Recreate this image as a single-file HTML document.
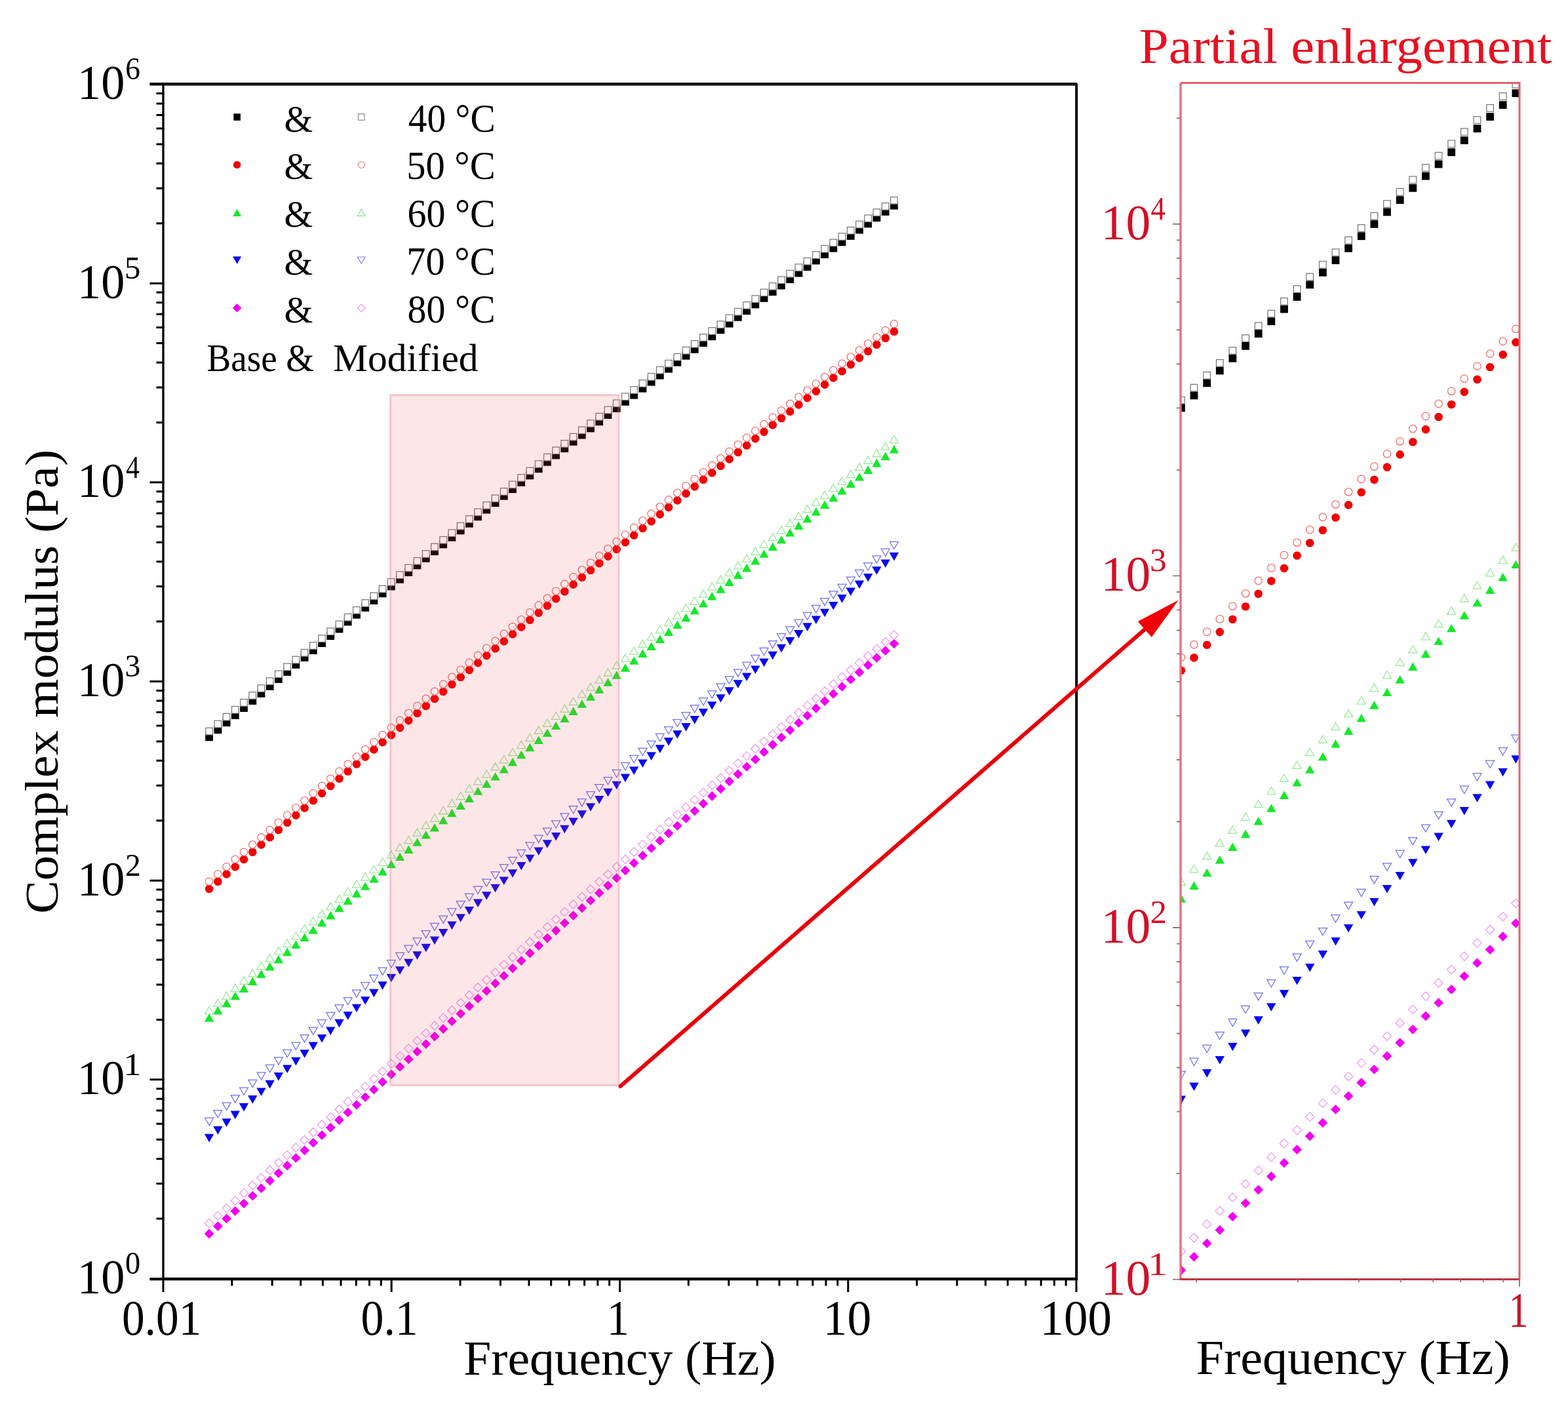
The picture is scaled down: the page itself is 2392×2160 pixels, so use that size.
<!DOCTYPE html>
<html><head><meta charset="utf-8"><title>Complex modulus vs frequency</title>
<style>html,body{margin:0;padding:0;background:#fff;}svg{display:block;}</style></head>
<body><svg width="2392" height="2160" viewBox="0 0 2392 2160"><rect x="0" y="0" width="2392" height="2160" fill="#fff"/><g><rect x="313.2" y="1118.5" width="11.8" height="11.8" fill="#000000"/><rect x="326.5" y="1107.4" width="11.8" height="11.8" fill="#000000"/><rect x="339.7" y="1096.3" width="11.8" height="11.8" fill="#000000"/><rect x="352.9" y="1085.2" width="11.8" height="11.8" fill="#000000"/><rect x="366.1" y="1074.1" width="11.8" height="11.8" fill="#000000"/><rect x="379.4" y="1063.1" width="11.8" height="11.8" fill="#000000"/><rect x="392.6" y="1052.0" width="11.8" height="11.8" fill="#000000"/><rect x="405.8" y="1041.0" width="11.8" height="11.8" fill="#000000"/><rect x="419.0" y="1030.0" width="11.8" height="11.8" fill="#000000"/><rect x="432.3" y="1019.0" width="11.8" height="11.8" fill="#000000"/><rect x="445.5" y="1008.0" width="11.8" height="11.8" fill="#000000"/><rect x="458.7" y="997.1" width="11.8" height="11.8" fill="#000000"/><rect x="471.9" y="986.2" width="11.8" height="11.8" fill="#000000"/><rect x="485.2" y="975.2" width="11.8" height="11.8" fill="#000000"/><rect x="498.4" y="964.3" width="11.8" height="11.8" fill="#000000"/><rect x="511.6" y="953.5" width="11.8" height="11.8" fill="#000000"/><rect x="524.8" y="942.6" width="11.8" height="11.8" fill="#000000"/><rect x="538.1" y="931.8" width="11.8" height="11.8" fill="#000000"/><rect x="551.3" y="921.0" width="11.8" height="11.8" fill="#000000"/><rect x="564.5" y="910.2" width="11.8" height="11.8" fill="#000000"/><rect x="577.7" y="899.4" width="11.8" height="11.8" fill="#000000"/><rect x="591.0" y="888.6" width="11.8" height="11.8" fill="#000000"/><rect x="604.2" y="877.9" width="11.8" height="11.8" fill="#000000"/><rect x="617.4" y="867.2" width="11.8" height="11.8" fill="#000000"/><rect x="630.6" y="856.5" width="11.8" height="11.8" fill="#000000"/><rect x="643.9" y="845.8" width="11.8" height="11.8" fill="#000000"/><rect x="657.1" y="835.2" width="11.8" height="11.8" fill="#000000"/><rect x="670.3" y="824.5" width="11.8" height="11.8" fill="#000000"/><rect x="683.5" y="813.9" width="11.8" height="11.8" fill="#000000"/><rect x="696.8" y="803.4" width="11.8" height="11.8" fill="#000000"/><rect x="710.0" y="792.8" width="11.8" height="11.8" fill="#000000"/><rect x="723.2" y="782.3" width="11.8" height="11.8" fill="#000000"/><rect x="736.4" y="771.7" width="11.8" height="11.8" fill="#000000"/><rect x="749.7" y="761.3" width="11.8" height="11.8" fill="#000000"/><rect x="762.9" y="750.8" width="11.8" height="11.8" fill="#000000"/><rect x="776.1" y="740.3" width="11.8" height="11.8" fill="#000000"/><rect x="789.3" y="729.9" width="11.8" height="11.8" fill="#000000"/><rect x="802.5" y="719.5" width="11.8" height="11.8" fill="#000000"/><rect x="815.8" y="709.2" width="11.8" height="11.8" fill="#000000"/><rect x="829.0" y="698.8" width="11.8" height="11.8" fill="#000000"/><rect x="842.2" y="688.5" width="11.8" height="11.8" fill="#000000"/><rect x="855.4" y="678.2" width="11.8" height="11.8" fill="#000000"/><rect x="868.7" y="667.9" width="11.8" height="11.8" fill="#000000"/><rect x="881.9" y="657.7" width="11.8" height="11.8" fill="#000000"/><rect x="895.1" y="647.5" width="11.8" height="11.8" fill="#000000"/><rect x="908.3" y="637.3" width="11.8" height="11.8" fill="#000000"/><rect x="921.6" y="627.1" width="11.8" height="11.8" fill="#000000"/><rect x="934.8" y="617.0" width="11.8" height="11.8" fill="#000000"/><rect x="948.0" y="606.9" width="11.8" height="11.8" fill="#000000"/><rect x="961.2" y="596.8" width="11.8" height="11.8" fill="#000000"/><rect x="974.5" y="586.7" width="11.8" height="11.8" fill="#000000"/><rect x="987.7" y="576.7" width="11.8" height="11.8" fill="#000000"/><rect x="1000.9" y="566.7" width="11.8" height="11.8" fill="#000000"/><rect x="1014.1" y="556.7" width="11.8" height="11.8" fill="#000000"/><rect x="1027.4" y="546.8" width="11.8" height="11.8" fill="#000000"/><rect x="1040.6" y="536.8" width="11.8" height="11.8" fill="#000000"/><rect x="1053.8" y="526.9" width="11.8" height="11.8" fill="#000000"/><rect x="1067.0" y="517.1" width="11.8" height="11.8" fill="#000000"/><rect x="1080.3" y="507.3" width="11.8" height="11.8" fill="#000000"/><rect x="1093.5" y="497.4" width="11.8" height="11.8" fill="#000000"/><rect x="1106.7" y="487.7" width="11.8" height="11.8" fill="#000000"/><rect x="1119.9" y="477.9" width="11.8" height="11.8" fill="#000000"/><rect x="1133.2" y="468.2" width="11.8" height="11.8" fill="#000000"/><rect x="1146.4" y="458.5" width="11.8" height="11.8" fill="#000000"/><rect x="1159.6" y="448.9" width="11.8" height="11.8" fill="#000000"/><rect x="1172.8" y="439.2" width="11.8" height="11.8" fill="#000000"/><rect x="1186.1" y="429.6" width="11.8" height="11.8" fill="#000000"/><rect x="1199.3" y="420.1" width="11.8" height="11.8" fill="#000000"/><rect x="1212.5" y="410.6" width="11.8" height="11.8" fill="#000000"/><rect x="1225.7" y="401.1" width="11.8" height="11.8" fill="#000000"/><rect x="1239.0" y="391.6" width="11.8" height="11.8" fill="#000000"/><rect x="1252.2" y="382.1" width="11.8" height="11.8" fill="#000000"/><rect x="1265.4" y="372.7" width="11.8" height="11.8" fill="#000000"/><rect x="1278.6" y="363.4" width="11.8" height="11.8" fill="#000000"/><rect x="1291.9" y="354.0" width="11.8" height="11.8" fill="#000000"/><rect x="1305.1" y="344.7" width="11.8" height="11.8" fill="#000000"/><rect x="1318.3" y="335.4" width="11.8" height="11.8" fill="#000000"/><rect x="1331.5" y="326.2" width="11.8" height="11.8" fill="#000000"/><rect x="1344.8" y="317.0" width="11.8" height="11.8" fill="#000000"/><rect x="1358.0" y="307.8" width="11.8" height="11.8" fill="#000000"/><rect x="313.8" y="1110.3" width="10.6" height="10.6" fill="#fff" stroke="#787878" stroke-width="1.25"/><rect x="327.1" y="1099.3" width="10.6" height="10.6" fill="#fff" stroke="#787878" stroke-width="1.25"/><rect x="340.3" y="1088.4" width="10.6" height="10.6" fill="#fff" stroke="#787878" stroke-width="1.25"/><rect x="353.5" y="1077.5" width="10.6" height="10.6" fill="#fff" stroke="#787878" stroke-width="1.25"/><rect x="366.7" y="1066.6" width="10.6" height="10.6" fill="#fff" stroke="#787878" stroke-width="1.25"/><rect x="379.9" y="1055.7" width="10.6" height="10.6" fill="#fff" stroke="#787878" stroke-width="1.25"/><rect x="393.2" y="1044.8" width="10.6" height="10.6" fill="#fff" stroke="#787878" stroke-width="1.25"/><rect x="406.4" y="1033.9" width="10.6" height="10.6" fill="#fff" stroke="#787878" stroke-width="1.25"/><rect x="419.6" y="1023.1" width="10.6" height="10.6" fill="#fff" stroke="#787878" stroke-width="1.25"/><rect x="432.8" y="1012.2" width="10.6" height="10.6" fill="#fff" stroke="#787878" stroke-width="1.25"/><rect x="446.1" y="1001.3" width="10.6" height="10.6" fill="#fff" stroke="#787878" stroke-width="1.25"/><rect x="459.3" y="990.5" width="10.6" height="10.6" fill="#fff" stroke="#787878" stroke-width="1.25"/><rect x="472.5" y="979.7" width="10.6" height="10.6" fill="#fff" stroke="#787878" stroke-width="1.25"/><rect x="485.7" y="968.8" width="10.6" height="10.6" fill="#fff" stroke="#787878" stroke-width="1.25"/><rect x="499.0" y="958.0" width="10.6" height="10.6" fill="#fff" stroke="#787878" stroke-width="1.25"/><rect x="512.2" y="947.2" width="10.6" height="10.6" fill="#fff" stroke="#787878" stroke-width="1.25"/><rect x="525.4" y="936.4" width="10.6" height="10.6" fill="#fff" stroke="#787878" stroke-width="1.25"/><rect x="538.6" y="925.6" width="10.6" height="10.6" fill="#fff" stroke="#787878" stroke-width="1.25"/><rect x="551.9" y="914.8" width="10.6" height="10.6" fill="#fff" stroke="#787878" stroke-width="1.25"/><rect x="565.1" y="904.1" width="10.6" height="10.6" fill="#fff" stroke="#787878" stroke-width="1.25"/><rect x="578.3" y="893.3" width="10.6" height="10.6" fill="#fff" stroke="#787878" stroke-width="1.25"/><rect x="591.5" y="882.6" width="10.6" height="10.6" fill="#fff" stroke="#787878" stroke-width="1.25"/><rect x="604.8" y="871.9" width="10.6" height="10.6" fill="#fff" stroke="#787878" stroke-width="1.25"/><rect x="618.0" y="861.2" width="10.6" height="10.6" fill="#fff" stroke="#787878" stroke-width="1.25"/><rect x="631.2" y="850.5" width="10.6" height="10.6" fill="#fff" stroke="#787878" stroke-width="1.25"/><rect x="644.4" y="839.8" width="10.6" height="10.6" fill="#fff" stroke="#787878" stroke-width="1.25"/><rect x="657.7" y="829.2" width="10.6" height="10.6" fill="#fff" stroke="#787878" stroke-width="1.25"/><rect x="670.9" y="818.5" width="10.6" height="10.6" fill="#fff" stroke="#787878" stroke-width="1.25"/><rect x="684.1" y="807.9" width="10.6" height="10.6" fill="#fff" stroke="#787878" stroke-width="1.25"/><rect x="697.3" y="797.3" width="10.6" height="10.6" fill="#fff" stroke="#787878" stroke-width="1.25"/><rect x="710.6" y="786.7" width="10.6" height="10.6" fill="#fff" stroke="#787878" stroke-width="1.25"/><rect x="723.8" y="776.1" width="10.6" height="10.6" fill="#fff" stroke="#787878" stroke-width="1.25"/><rect x="737.0" y="765.6" width="10.6" height="10.6" fill="#fff" stroke="#787878" stroke-width="1.25"/><rect x="750.2" y="755.1" width="10.6" height="10.6" fill="#fff" stroke="#787878" stroke-width="1.25"/><rect x="763.5" y="744.6" width="10.6" height="10.6" fill="#fff" stroke="#787878" stroke-width="1.25"/><rect x="776.7" y="734.1" width="10.6" height="10.6" fill="#fff" stroke="#787878" stroke-width="1.25"/><rect x="789.9" y="723.6" width="10.6" height="10.6" fill="#fff" stroke="#787878" stroke-width="1.25"/><rect x="803.1" y="713.2" width="10.6" height="10.6" fill="#fff" stroke="#787878" stroke-width="1.25"/><rect x="816.4" y="702.7" width="10.6" height="10.6" fill="#fff" stroke="#787878" stroke-width="1.25"/><rect x="829.6" y="692.3" width="10.6" height="10.6" fill="#fff" stroke="#787878" stroke-width="1.25"/><rect x="842.8" y="682.0" width="10.6" height="10.6" fill="#fff" stroke="#787878" stroke-width="1.25"/><rect x="856.0" y="671.6" width="10.6" height="10.6" fill="#fff" stroke="#787878" stroke-width="1.25"/><rect x="869.3" y="661.3" width="10.6" height="10.6" fill="#fff" stroke="#787878" stroke-width="1.25"/><rect x="882.5" y="651.0" width="10.6" height="10.6" fill="#fff" stroke="#787878" stroke-width="1.25"/><rect x="895.7" y="640.7" width="10.6" height="10.6" fill="#fff" stroke="#787878" stroke-width="1.25"/><rect x="908.9" y="630.4" width="10.6" height="10.6" fill="#fff" stroke="#787878" stroke-width="1.25"/><rect x="922.2" y="620.2" width="10.6" height="10.6" fill="#fff" stroke="#787878" stroke-width="1.25"/><rect x="935.4" y="610.0" width="10.6" height="10.6" fill="#fff" stroke="#787878" stroke-width="1.25"/><rect x="948.6" y="599.8" width="10.6" height="10.6" fill="#fff" stroke="#787878" stroke-width="1.25"/><rect x="961.8" y="589.7" width="10.6" height="10.6" fill="#fff" stroke="#787878" stroke-width="1.25"/><rect x="975.1" y="579.6" width="10.6" height="10.6" fill="#fff" stroke="#787878" stroke-width="1.25"/><rect x="988.3" y="569.5" width="10.6" height="10.6" fill="#fff" stroke="#787878" stroke-width="1.25"/><rect x="1001.5" y="559.4" width="10.6" height="10.6" fill="#fff" stroke="#787878" stroke-width="1.25"/><rect x="1014.7" y="549.4" width="10.6" height="10.6" fill="#fff" stroke="#787878" stroke-width="1.25"/><rect x="1028.0" y="539.4" width="10.6" height="10.6" fill="#fff" stroke="#787878" stroke-width="1.25"/><rect x="1041.2" y="529.4" width="10.6" height="10.6" fill="#fff" stroke="#787878" stroke-width="1.25"/><rect x="1054.4" y="519.5" width="10.6" height="10.6" fill="#fff" stroke="#787878" stroke-width="1.25"/><rect x="1067.6" y="509.6" width="10.6" height="10.6" fill="#fff" stroke="#787878" stroke-width="1.25"/><rect x="1080.9" y="499.7" width="10.6" height="10.6" fill="#fff" stroke="#787878" stroke-width="1.25"/><rect x="1094.1" y="489.8" width="10.6" height="10.6" fill="#fff" stroke="#787878" stroke-width="1.25"/><rect x="1107.3" y="480.0" width="10.6" height="10.6" fill="#fff" stroke="#787878" stroke-width="1.25"/><rect x="1120.5" y="470.3" width="10.6" height="10.6" fill="#fff" stroke="#787878" stroke-width="1.25"/><rect x="1133.8" y="460.5" width="10.6" height="10.6" fill="#fff" stroke="#787878" stroke-width="1.25"/><rect x="1147.0" y="450.8" width="10.6" height="10.6" fill="#fff" stroke="#787878" stroke-width="1.25"/><rect x="1160.2" y="441.1" width="10.6" height="10.6" fill="#fff" stroke="#787878" stroke-width="1.25"/><rect x="1173.4" y="431.5" width="10.6" height="10.6" fill="#fff" stroke="#787878" stroke-width="1.25"/><rect x="1186.7" y="421.9" width="10.6" height="10.6" fill="#fff" stroke="#787878" stroke-width="1.25"/><rect x="1199.9" y="412.3" width="10.6" height="10.6" fill="#fff" stroke="#787878" stroke-width="1.25"/><rect x="1213.1" y="402.8" width="10.6" height="10.6" fill="#fff" stroke="#787878" stroke-width="1.25"/><rect x="1226.3" y="393.3" width="10.6" height="10.6" fill="#fff" stroke="#787878" stroke-width="1.25"/><rect x="1239.6" y="383.8" width="10.6" height="10.6" fill="#fff" stroke="#787878" stroke-width="1.25"/><rect x="1252.8" y="374.4" width="10.6" height="10.6" fill="#fff" stroke="#787878" stroke-width="1.25"/><rect x="1266.0" y="365.1" width="10.6" height="10.6" fill="#fff" stroke="#787878" stroke-width="1.25"/><rect x="1279.2" y="355.7" width="10.6" height="10.6" fill="#fff" stroke="#787878" stroke-width="1.25"/><rect x="1292.5" y="346.4" width="10.6" height="10.6" fill="#fff" stroke="#787878" stroke-width="1.25"/><rect x="1305.7" y="337.2" width="10.6" height="10.6" fill="#fff" stroke="#787878" stroke-width="1.25"/><rect x="1318.9" y="327.9" width="10.6" height="10.6" fill="#fff" stroke="#787878" stroke-width="1.25"/><rect x="1332.1" y="318.8" width="10.6" height="10.6" fill="#fff" stroke="#787878" stroke-width="1.25"/><rect x="1345.4" y="309.6" width="10.6" height="10.6" fill="#fff" stroke="#787878" stroke-width="1.25"/><rect x="1358.6" y="300.5" width="10.6" height="10.6" fill="#fff" stroke="#787878" stroke-width="1.25"/><circle cx="319.1" cy="1355.9" r="6.3" fill="#f00000"/><circle cx="332.4" cy="1344.7" r="6.3" fill="#f00000"/><circle cx="345.6" cy="1333.4" r="6.3" fill="#f00000"/><circle cx="358.8" cy="1322.2" r="6.3" fill="#f00000"/><circle cx="372.0" cy="1310.9" r="6.3" fill="#f00000"/><circle cx="385.3" cy="1299.7" r="6.3" fill="#f00000"/><circle cx="398.5" cy="1288.5" r="6.3" fill="#f00000"/><circle cx="411.7" cy="1277.2" r="6.3" fill="#f00000"/><circle cx="424.9" cy="1266.0" r="6.3" fill="#f00000"/><circle cx="438.2" cy="1254.8" r="6.3" fill="#f00000"/><circle cx="451.4" cy="1243.6" r="6.3" fill="#f00000"/><circle cx="464.6" cy="1232.5" r="6.3" fill="#f00000"/><circle cx="477.8" cy="1221.3" r="6.3" fill="#f00000"/><circle cx="491.1" cy="1210.1" r="6.3" fill="#f00000"/><circle cx="504.3" cy="1199.0" r="6.3" fill="#f00000"/><circle cx="517.5" cy="1187.8" r="6.3" fill="#f00000"/><circle cx="530.7" cy="1176.7" r="6.3" fill="#f00000"/><circle cx="544.0" cy="1165.6" r="6.3" fill="#f00000"/><circle cx="557.2" cy="1154.5" r="6.3" fill="#f00000"/><circle cx="570.4" cy="1143.4" r="6.3" fill="#f00000"/><circle cx="583.6" cy="1132.3" r="6.3" fill="#f00000"/><circle cx="596.9" cy="1121.2" r="6.3" fill="#f00000"/><circle cx="610.1" cy="1110.1" r="6.3" fill="#f00000"/><circle cx="623.3" cy="1099.1" r="6.3" fill="#f00000"/><circle cx="636.5" cy="1088.0" r="6.3" fill="#f00000"/><circle cx="649.8" cy="1077.0" r="6.3" fill="#f00000"/><circle cx="663.0" cy="1066.0" r="6.3" fill="#f00000"/><circle cx="676.2" cy="1055.0" r="6.3" fill="#f00000"/><circle cx="689.4" cy="1044.0" r="6.3" fill="#f00000"/><circle cx="702.7" cy="1033.0" r="6.3" fill="#f00000"/><circle cx="715.9" cy="1022.0" r="6.3" fill="#f00000"/><circle cx="729.1" cy="1011.1" r="6.3" fill="#f00000"/><circle cx="742.3" cy="1000.1" r="6.3" fill="#f00000"/><circle cx="755.6" cy="989.2" r="6.3" fill="#f00000"/><circle cx="768.8" cy="978.3" r="6.3" fill="#f00000"/><circle cx="782.0" cy="967.4" r="6.3" fill="#f00000"/><circle cx="795.2" cy="956.5" r="6.3" fill="#f00000"/><circle cx="808.4" cy="945.7" r="6.3" fill="#f00000"/><circle cx="821.7" cy="934.8" r="6.3" fill="#f00000"/><circle cx="834.9" cy="924.0" r="6.3" fill="#f00000"/><circle cx="848.1" cy="913.2" r="6.3" fill="#f00000"/><circle cx="861.3" cy="902.3" r="6.3" fill="#f00000"/><circle cx="874.6" cy="891.6" r="6.3" fill="#f00000"/><circle cx="887.8" cy="880.8" r="6.3" fill="#f00000"/><circle cx="901.0" cy="870.0" r="6.3" fill="#f00000"/><circle cx="914.2" cy="859.3" r="6.3" fill="#f00000"/><circle cx="927.5" cy="848.6" r="6.3" fill="#f00000"/><circle cx="940.7" cy="837.9" r="6.3" fill="#f00000"/><circle cx="953.9" cy="827.2" r="6.3" fill="#f00000"/><circle cx="967.1" cy="816.5" r="6.3" fill="#f00000"/><circle cx="980.4" cy="805.9" r="6.3" fill="#f00000"/><circle cx="993.6" cy="795.2" r="6.3" fill="#f00000"/><circle cx="1006.8" cy="784.6" r="6.3" fill="#f00000"/><circle cx="1020.0" cy="774.0" r="6.3" fill="#f00000"/><circle cx="1033.3" cy="763.4" r="6.3" fill="#f00000"/><circle cx="1046.5" cy="752.9" r="6.3" fill="#f00000"/><circle cx="1059.7" cy="742.3" r="6.3" fill="#f00000"/><circle cx="1072.9" cy="731.8" r="6.3" fill="#f00000"/><circle cx="1086.2" cy="721.3" r="6.3" fill="#f00000"/><circle cx="1099.4" cy="710.8" r="6.3" fill="#f00000"/><circle cx="1112.6" cy="700.4" r="6.3" fill="#f00000"/><circle cx="1125.8" cy="689.9" r="6.3" fill="#f00000"/><circle cx="1139.1" cy="679.5" r="6.3" fill="#f00000"/><circle cx="1152.3" cy="669.1" r="6.3" fill="#f00000"/><circle cx="1165.5" cy="658.7" r="6.3" fill="#f00000"/><circle cx="1178.7" cy="648.3" r="6.3" fill="#f00000"/><circle cx="1192.0" cy="638.0" r="6.3" fill="#f00000"/><circle cx="1205.2" cy="627.7" r="6.3" fill="#f00000"/><circle cx="1218.4" cy="617.4" r="6.3" fill="#f00000"/><circle cx="1231.6" cy="607.1" r="6.3" fill="#f00000"/><circle cx="1244.9" cy="596.9" r="6.3" fill="#f00000"/><circle cx="1258.1" cy="586.6" r="6.3" fill="#f00000"/><circle cx="1271.3" cy="576.4" r="6.3" fill="#f00000"/><circle cx="1284.5" cy="566.3" r="6.3" fill="#f00000"/><circle cx="1297.8" cy="556.1" r="6.3" fill="#f00000"/><circle cx="1311.0" cy="546.0" r="6.3" fill="#f00000"/><circle cx="1324.2" cy="535.8" r="6.3" fill="#f00000"/><circle cx="1337.4" cy="525.8" r="6.3" fill="#f00000"/><circle cx="1350.7" cy="515.7" r="6.3" fill="#f00000"/><circle cx="1363.9" cy="505.7" r="6.3" fill="#f00000"/><circle cx="319.1" cy="1344.7" r="5.7" fill="#fff" stroke="#f06868" stroke-width="1.25"/><circle cx="332.4" cy="1333.4" r="5.7" fill="#fff" stroke="#f06868" stroke-width="1.25"/><circle cx="345.6" cy="1322.2" r="5.7" fill="#fff" stroke="#f06868" stroke-width="1.25"/><circle cx="358.8" cy="1310.9" r="5.7" fill="#fff" stroke="#f06868" stroke-width="1.25"/><circle cx="372.0" cy="1299.7" r="5.7" fill="#fff" stroke="#f06868" stroke-width="1.25"/><circle cx="385.3" cy="1288.5" r="5.7" fill="#fff" stroke="#f06868" stroke-width="1.25"/><circle cx="398.5" cy="1277.3" r="5.7" fill="#fff" stroke="#f06868" stroke-width="1.25"/><circle cx="411.7" cy="1266.0" r="5.7" fill="#fff" stroke="#f06868" stroke-width="1.25"/><circle cx="424.9" cy="1254.8" r="5.7" fill="#fff" stroke="#f06868" stroke-width="1.25"/><circle cx="438.2" cy="1243.6" r="5.7" fill="#fff" stroke="#f06868" stroke-width="1.25"/><circle cx="451.4" cy="1232.4" r="5.7" fill="#fff" stroke="#f06868" stroke-width="1.25"/><circle cx="464.6" cy="1221.3" r="5.7" fill="#fff" stroke="#f06868" stroke-width="1.25"/><circle cx="477.8" cy="1210.1" r="5.7" fill="#fff" stroke="#f06868" stroke-width="1.25"/><circle cx="491.1" cy="1198.9" r="5.7" fill="#fff" stroke="#f06868" stroke-width="1.25"/><circle cx="504.3" cy="1187.8" r="5.7" fill="#fff" stroke="#f06868" stroke-width="1.25"/><circle cx="517.5" cy="1176.6" r="5.7" fill="#fff" stroke="#f06868" stroke-width="1.25"/><circle cx="530.7" cy="1165.5" r="5.7" fill="#fff" stroke="#f06868" stroke-width="1.25"/><circle cx="544.0" cy="1154.4" r="5.7" fill="#fff" stroke="#f06868" stroke-width="1.25"/><circle cx="557.2" cy="1143.2" r="5.7" fill="#fff" stroke="#f06868" stroke-width="1.25"/><circle cx="570.4" cy="1132.1" r="5.7" fill="#fff" stroke="#f06868" stroke-width="1.25"/><circle cx="583.6" cy="1121.0" r="5.7" fill="#fff" stroke="#f06868" stroke-width="1.25"/><circle cx="596.9" cy="1110.0" r="5.7" fill="#fff" stroke="#f06868" stroke-width="1.25"/><circle cx="610.1" cy="1098.9" r="5.7" fill="#fff" stroke="#f06868" stroke-width="1.25"/><circle cx="623.3" cy="1087.8" r="5.7" fill="#fff" stroke="#f06868" stroke-width="1.25"/><circle cx="636.5" cy="1076.8" r="5.7" fill="#fff" stroke="#f06868" stroke-width="1.25"/><circle cx="649.8" cy="1065.7" r="5.7" fill="#fff" stroke="#f06868" stroke-width="1.25"/><circle cx="663.0" cy="1054.7" r="5.7" fill="#fff" stroke="#f06868" stroke-width="1.25"/><circle cx="676.2" cy="1043.7" r="5.7" fill="#fff" stroke="#f06868" stroke-width="1.25"/><circle cx="689.4" cy="1032.7" r="5.7" fill="#fff" stroke="#f06868" stroke-width="1.25"/><circle cx="702.7" cy="1021.7" r="5.7" fill="#fff" stroke="#f06868" stroke-width="1.25"/><circle cx="715.9" cy="1010.7" r="5.7" fill="#fff" stroke="#f06868" stroke-width="1.25"/><circle cx="729.1" cy="999.7" r="5.7" fill="#fff" stroke="#f06868" stroke-width="1.25"/><circle cx="742.3" cy="988.8" r="5.7" fill="#fff" stroke="#f06868" stroke-width="1.25"/><circle cx="755.6" cy="977.8" r="5.7" fill="#fff" stroke="#f06868" stroke-width="1.25"/><circle cx="768.8" cy="966.9" r="5.7" fill="#fff" stroke="#f06868" stroke-width="1.25"/><circle cx="782.0" cy="956.0" r="5.7" fill="#fff" stroke="#f06868" stroke-width="1.25"/><circle cx="795.2" cy="945.1" r="5.7" fill="#fff" stroke="#f06868" stroke-width="1.25"/><circle cx="808.4" cy="934.2" r="5.7" fill="#fff" stroke="#f06868" stroke-width="1.25"/><circle cx="821.7" cy="923.4" r="5.7" fill="#fff" stroke="#f06868" stroke-width="1.25"/><circle cx="834.9" cy="912.5" r="5.7" fill="#fff" stroke="#f06868" stroke-width="1.25"/><circle cx="848.1" cy="901.7" r="5.7" fill="#fff" stroke="#f06868" stroke-width="1.25"/><circle cx="861.3" cy="890.9" r="5.7" fill="#fff" stroke="#f06868" stroke-width="1.25"/><circle cx="874.6" cy="880.1" r="5.7" fill="#fff" stroke="#f06868" stroke-width="1.25"/><circle cx="887.8" cy="869.3" r="5.7" fill="#fff" stroke="#f06868" stroke-width="1.25"/><circle cx="901.0" cy="858.5" r="5.7" fill="#fff" stroke="#f06868" stroke-width="1.25"/><circle cx="914.2" cy="847.8" r="5.7" fill="#fff" stroke="#f06868" stroke-width="1.25"/><circle cx="927.5" cy="837.0" r="5.7" fill="#fff" stroke="#f06868" stroke-width="1.25"/><circle cx="940.7" cy="826.3" r="5.7" fill="#fff" stroke="#f06868" stroke-width="1.25"/><circle cx="953.9" cy="815.6" r="5.7" fill="#fff" stroke="#f06868" stroke-width="1.25"/><circle cx="967.1" cy="804.9" r="5.7" fill="#fff" stroke="#f06868" stroke-width="1.25"/><circle cx="980.4" cy="794.3" r="5.7" fill="#fff" stroke="#f06868" stroke-width="1.25"/><circle cx="993.6" cy="783.6" r="5.7" fill="#fff" stroke="#f06868" stroke-width="1.25"/><circle cx="1006.8" cy="773.0" r="5.7" fill="#fff" stroke="#f06868" stroke-width="1.25"/><circle cx="1020.0" cy="762.4" r="5.7" fill="#fff" stroke="#f06868" stroke-width="1.25"/><circle cx="1033.3" cy="751.8" r="5.7" fill="#fff" stroke="#f06868" stroke-width="1.25"/><circle cx="1046.5" cy="741.3" r="5.7" fill="#fff" stroke="#f06868" stroke-width="1.25"/><circle cx="1059.7" cy="730.7" r="5.7" fill="#fff" stroke="#f06868" stroke-width="1.25"/><circle cx="1072.9" cy="720.2" r="5.7" fill="#fff" stroke="#f06868" stroke-width="1.25"/><circle cx="1086.2" cy="709.7" r="5.7" fill="#fff" stroke="#f06868" stroke-width="1.25"/><circle cx="1099.4" cy="699.2" r="5.7" fill="#fff" stroke="#f06868" stroke-width="1.25"/><circle cx="1112.6" cy="688.7" r="5.7" fill="#fff" stroke="#f06868" stroke-width="1.25"/><circle cx="1125.8" cy="678.3" r="5.7" fill="#fff" stroke="#f06868" stroke-width="1.25"/><circle cx="1139.1" cy="667.8" r="5.7" fill="#fff" stroke="#f06868" stroke-width="1.25"/><circle cx="1152.3" cy="657.4" r="5.7" fill="#fff" stroke="#f06868" stroke-width="1.25"/><circle cx="1165.5" cy="647.1" r="5.7" fill="#fff" stroke="#f06868" stroke-width="1.25"/><circle cx="1178.7" cy="636.7" r="5.7" fill="#fff" stroke="#f06868" stroke-width="1.25"/><circle cx="1192.0" cy="626.4" r="5.7" fill="#fff" stroke="#f06868" stroke-width="1.25"/><circle cx="1205.2" cy="616.0" r="5.7" fill="#fff" stroke="#f06868" stroke-width="1.25"/><circle cx="1218.4" cy="605.8" r="5.7" fill="#fff" stroke="#f06868" stroke-width="1.25"/><circle cx="1231.6" cy="595.5" r="5.7" fill="#fff" stroke="#f06868" stroke-width="1.25"/><circle cx="1244.9" cy="585.2" r="5.7" fill="#fff" stroke="#f06868" stroke-width="1.25"/><circle cx="1258.1" cy="575.0" r="5.7" fill="#fff" stroke="#f06868" stroke-width="1.25"/><circle cx="1271.3" cy="564.8" r="5.7" fill="#fff" stroke="#f06868" stroke-width="1.25"/><circle cx="1284.5" cy="554.6" r="5.7" fill="#fff" stroke="#f06868" stroke-width="1.25"/><circle cx="1297.8" cy="544.5" r="5.7" fill="#fff" stroke="#f06868" stroke-width="1.25"/><circle cx="1311.0" cy="534.4" r="5.7" fill="#fff" stroke="#f06868" stroke-width="1.25"/><circle cx="1324.2" cy="524.3" r="5.7" fill="#fff" stroke="#f06868" stroke-width="1.25"/><circle cx="1337.4" cy="514.2" r="5.7" fill="#fff" stroke="#f06868" stroke-width="1.25"/><circle cx="1350.7" cy="504.1" r="5.7" fill="#fff" stroke="#f06868" stroke-width="1.25"/><circle cx="1363.9" cy="494.1" r="5.7" fill="#fff" stroke="#f06868" stroke-width="1.25"/><path d="M319.1 1546.1L326.3 1558.7L311.9 1558.7Z" fill="#16e82a"/><path d="M332.4 1535.0L339.6 1547.6L325.2 1547.6Z" fill="#16e82a"/><path d="M345.6 1523.8L352.8 1536.4L338.4 1536.4Z" fill="#16e82a"/><path d="M358.8 1512.7L366.0 1525.3L351.6 1525.3Z" fill="#16e82a"/><path d="M372.0 1501.5L379.2 1514.1L364.8 1514.1Z" fill="#16e82a"/><path d="M385.3 1490.3L392.5 1502.9L378.1 1502.9Z" fill="#16e82a"/><path d="M398.5 1479.2L405.7 1491.8L391.3 1491.8Z" fill="#16e82a"/><path d="M411.7 1468.0L418.9 1480.6L404.5 1480.6Z" fill="#16e82a"/><path d="M424.9 1456.9L432.1 1469.5L417.7 1469.5Z" fill="#16e82a"/><path d="M438.2 1445.7L445.4 1458.3L431.0 1458.3Z" fill="#16e82a"/><path d="M451.4 1434.5L458.6 1447.1L444.2 1447.1Z" fill="#16e82a"/><path d="M464.6 1423.4L471.8 1436.0L457.4 1436.0Z" fill="#16e82a"/><path d="M477.8 1412.2L485.0 1424.8L470.6 1424.8Z" fill="#16e82a"/><path d="M491.1 1401.0L498.3 1413.6L483.9 1413.6Z" fill="#16e82a"/><path d="M504.3 1389.8L511.5 1402.4L497.1 1402.4Z" fill="#16e82a"/><path d="M517.5 1378.7L524.7 1391.3L510.3 1391.3Z" fill="#16e82a"/><path d="M530.7 1367.5L537.9 1380.1L523.5 1380.1Z" fill="#16e82a"/><path d="M544.0 1356.3L551.2 1368.9L536.8 1368.9Z" fill="#16e82a"/><path d="M557.2 1345.2L564.4 1357.8L550.0 1357.8Z" fill="#16e82a"/><path d="M570.4 1334.0L577.6 1346.6L563.2 1346.6Z" fill="#16e82a"/><path d="M583.6 1322.8L590.8 1335.4L576.4 1335.4Z" fill="#16e82a"/><path d="M596.9 1311.7L604.1 1324.3L589.7 1324.3Z" fill="#16e82a"/><path d="M610.1 1300.5L617.3 1313.1L602.9 1313.1Z" fill="#16e82a"/><path d="M623.3 1289.3L630.5 1301.9L616.1 1301.9Z" fill="#16e82a"/><path d="M636.5 1278.2L643.7 1290.8L629.3 1290.8Z" fill="#16e82a"/><path d="M649.8 1267.0L657.0 1279.6L642.6 1279.6Z" fill="#16e82a"/><path d="M663.0 1255.9L670.2 1268.5L655.8 1268.5Z" fill="#16e82a"/><path d="M676.2 1244.7L683.4 1257.3L669.0 1257.3Z" fill="#16e82a"/><path d="M689.4 1233.6L696.6 1246.2L682.2 1246.2Z" fill="#16e82a"/><path d="M702.7 1222.5L709.9 1235.1L695.5 1235.1Z" fill="#16e82a"/><path d="M715.9 1211.3L723.1 1223.9L708.7 1223.9Z" fill="#16e82a"/><path d="M729.1 1200.2L736.3 1212.8L721.9 1212.8Z" fill="#16e82a"/><path d="M742.3 1189.1L749.5 1201.7L735.1 1201.7Z" fill="#16e82a"/><path d="M755.6 1178.0L762.8 1190.6L748.4 1190.6Z" fill="#16e82a"/><path d="M768.8 1166.9L776.0 1179.5L761.6 1179.5Z" fill="#16e82a"/><path d="M782.0 1155.8L789.2 1168.4L774.8 1168.4Z" fill="#16e82a"/><path d="M795.2 1144.7L802.4 1157.3L788.0 1157.3Z" fill="#16e82a"/><path d="M808.4 1133.6L815.6 1146.2L801.2 1146.2Z" fill="#16e82a"/><path d="M821.7 1122.5L828.9 1135.1L814.5 1135.1Z" fill="#16e82a"/><path d="M834.9 1111.4L842.1 1124.0L827.7 1124.0Z" fill="#16e82a"/><path d="M848.1 1100.4L855.3 1113.0L840.9 1113.0Z" fill="#16e82a"/><path d="M861.3 1089.3L868.5 1101.9L854.1 1101.9Z" fill="#16e82a"/><path d="M874.6 1078.3L881.8 1090.9L867.4 1090.9Z" fill="#16e82a"/><path d="M887.8 1067.2L895.0 1079.8L880.6 1079.8Z" fill="#16e82a"/><path d="M901.0 1056.2L908.2 1068.8L893.8 1068.8Z" fill="#16e82a"/><path d="M914.2 1045.2L921.4 1057.8L907.0 1057.8Z" fill="#16e82a"/><path d="M927.5 1034.2L934.7 1046.8L920.3 1046.8Z" fill="#16e82a"/><path d="M940.7 1023.2L947.9 1035.8L933.5 1035.8Z" fill="#16e82a"/><path d="M953.9 1012.2L961.1 1024.8L946.7 1024.8Z" fill="#16e82a"/><path d="M967.1 1001.2L974.3 1013.8L959.9 1013.8Z" fill="#16e82a"/><path d="M980.4 990.3L987.6 1002.9L973.2 1002.9Z" fill="#16e82a"/><path d="M993.6 979.3L1000.8 991.9L986.4 991.9Z" fill="#16e82a"/><path d="M1006.8 968.4L1014.0 981.0L999.6 981.0Z" fill="#16e82a"/><path d="M1020.0 957.4L1027.2 970.0L1012.8 970.0Z" fill="#16e82a"/><path d="M1033.3 946.5L1040.5 959.1L1026.1 959.1Z" fill="#16e82a"/><path d="M1046.5 935.6L1053.7 948.2L1039.3 948.2Z" fill="#16e82a"/><path d="M1059.7 924.7L1066.9 937.3L1052.5 937.3Z" fill="#16e82a"/><path d="M1072.9 913.9L1080.1 926.5L1065.7 926.5Z" fill="#16e82a"/><path d="M1086.2 903.0L1093.4 915.6L1079.0 915.6Z" fill="#16e82a"/><path d="M1099.4 892.2L1106.6 904.8L1092.2 904.8Z" fill="#16e82a"/><path d="M1112.6 881.3L1119.8 893.9L1105.4 893.9Z" fill="#16e82a"/><path d="M1125.8 870.5L1133.0 883.1L1118.6 883.1Z" fill="#16e82a"/><path d="M1139.1 859.7L1146.3 872.3L1131.9 872.3Z" fill="#16e82a"/><path d="M1152.3 848.9L1159.5 861.5L1145.1 861.5Z" fill="#16e82a"/><path d="M1165.5 838.2L1172.7 850.8L1158.3 850.8Z" fill="#16e82a"/><path d="M1178.7 827.4L1185.9 840.0L1171.5 840.0Z" fill="#16e82a"/><path d="M1192.0 816.7L1199.2 829.3L1184.8 829.3Z" fill="#16e82a"/><path d="M1205.2 806.0L1212.4 818.6L1198.0 818.6Z" fill="#16e82a"/><path d="M1218.4 795.3L1225.6 807.9L1211.2 807.9Z" fill="#16e82a"/><path d="M1231.6 784.6L1238.8 797.2L1224.4 797.2Z" fill="#16e82a"/><path d="M1244.9 773.9L1252.1 786.5L1237.7 786.5Z" fill="#16e82a"/><path d="M1258.1 763.3L1265.3 775.9L1250.9 775.9Z" fill="#16e82a"/><path d="M1271.3 752.7L1278.5 765.3L1264.1 765.3Z" fill="#16e82a"/><path d="M1284.5 742.0L1291.7 754.6L1277.3 754.6Z" fill="#16e82a"/><path d="M1297.8 731.5L1305.0 744.1L1290.6 744.1Z" fill="#16e82a"/><path d="M1311.0 720.9L1318.2 733.5L1303.8 733.5Z" fill="#16e82a"/><path d="M1324.2 710.3L1331.4 722.9L1317.0 722.9Z" fill="#16e82a"/><path d="M1337.4 699.8L1344.6 712.4L1330.2 712.4Z" fill="#16e82a"/><path d="M1350.7 689.3L1357.9 701.9L1343.5 701.9Z" fill="#16e82a"/><path d="M1363.9 678.8L1371.1 691.4L1356.7 691.4Z" fill="#16e82a"/><path d="M319.1 1535.5L325.6 1546.8L312.7 1546.8Z" fill="#fff" stroke="#98e898" stroke-width="1.25"/><path d="M332.4 1524.1L338.8 1535.4L325.9 1535.4Z" fill="#fff" stroke="#98e898" stroke-width="1.25"/><path d="M345.6 1512.7L352.1 1524.0L339.1 1524.0Z" fill="#fff" stroke="#98e898" stroke-width="1.25"/><path d="M358.8 1501.3L365.3 1512.6L352.3 1512.6Z" fill="#fff" stroke="#98e898" stroke-width="1.25"/><path d="M372.0 1489.9L378.5 1501.3L365.6 1501.3Z" fill="#fff" stroke="#98e898" stroke-width="1.25"/><path d="M385.3 1478.6L391.7 1489.9L378.8 1489.9Z" fill="#fff" stroke="#98e898" stroke-width="1.25"/><path d="M398.5 1467.2L405.0 1478.5L392.0 1478.5Z" fill="#fff" stroke="#98e898" stroke-width="1.25"/><path d="M411.7 1455.8L418.2 1467.2L405.2 1467.2Z" fill="#fff" stroke="#98e898" stroke-width="1.25"/><path d="M424.9 1444.5L431.4 1455.8L418.5 1455.8Z" fill="#fff" stroke="#98e898" stroke-width="1.25"/><path d="M438.2 1433.2L444.6 1444.5L431.7 1444.5Z" fill="#fff" stroke="#98e898" stroke-width="1.25"/><path d="M451.4 1421.8L457.9 1433.2L444.9 1433.2Z" fill="#fff" stroke="#98e898" stroke-width="1.25"/><path d="M464.6 1410.5L471.1 1421.8L458.1 1421.8Z" fill="#fff" stroke="#98e898" stroke-width="1.25"/><path d="M477.8 1399.2L484.3 1410.5L471.4 1410.5Z" fill="#fff" stroke="#98e898" stroke-width="1.25"/><path d="M491.1 1387.9L497.5 1399.2L484.6 1399.2Z" fill="#fff" stroke="#98e898" stroke-width="1.25"/><path d="M504.3 1376.6L510.8 1387.9L497.8 1387.9Z" fill="#fff" stroke="#98e898" stroke-width="1.25"/><path d="M517.5 1365.3L524.0 1376.6L511.0 1376.6Z" fill="#fff" stroke="#98e898" stroke-width="1.25"/><path d="M530.7 1354.0L537.2 1365.3L524.3 1365.3Z" fill="#fff" stroke="#98e898" stroke-width="1.25"/><path d="M544.0 1342.7L550.4 1354.1L537.5 1354.1Z" fill="#fff" stroke="#98e898" stroke-width="1.25"/><path d="M557.2 1331.5L563.7 1342.8L550.7 1342.8Z" fill="#fff" stroke="#98e898" stroke-width="1.25"/><path d="M570.4 1320.2L576.9 1331.5L563.9 1331.5Z" fill="#fff" stroke="#98e898" stroke-width="1.25"/><path d="M583.6 1309.0L590.1 1320.3L577.2 1320.3Z" fill="#fff" stroke="#98e898" stroke-width="1.25"/><path d="M596.9 1297.7L603.3 1309.1L590.4 1309.1Z" fill="#fff" stroke="#98e898" stroke-width="1.25"/><path d="M610.1 1286.5L616.6 1297.8L603.6 1297.8Z" fill="#fff" stroke="#98e898" stroke-width="1.25"/><path d="M623.3 1275.3L629.8 1286.6L616.8 1286.6Z" fill="#fff" stroke="#98e898" stroke-width="1.25"/><path d="M636.5 1264.1L643.0 1275.4L630.0 1275.4Z" fill="#fff" stroke="#98e898" stroke-width="1.25"/><path d="M649.8 1252.9L656.2 1264.2L643.3 1264.2Z" fill="#fff" stroke="#98e898" stroke-width="1.25"/><path d="M663.0 1241.7L669.5 1253.0L656.5 1253.0Z" fill="#fff" stroke="#98e898" stroke-width="1.25"/><path d="M676.2 1230.5L682.7 1241.8L669.7 1241.8Z" fill="#fff" stroke="#98e898" stroke-width="1.25"/><path d="M689.4 1219.3L695.9 1230.6L682.9 1230.6Z" fill="#fff" stroke="#98e898" stroke-width="1.25"/><path d="M702.7 1208.1L709.1 1219.5L696.2 1219.5Z" fill="#fff" stroke="#98e898" stroke-width="1.25"/><path d="M715.9 1197.0L722.4 1208.3L709.4 1208.3Z" fill="#fff" stroke="#98e898" stroke-width="1.25"/><path d="M729.1 1185.8L735.6 1197.2L722.6 1197.2Z" fill="#fff" stroke="#98e898" stroke-width="1.25"/><path d="M742.3 1174.7L748.8 1186.0L735.8 1186.0Z" fill="#fff" stroke="#98e898" stroke-width="1.25"/><path d="M755.6 1163.6L762.0 1174.9L749.1 1174.9Z" fill="#fff" stroke="#98e898" stroke-width="1.25"/><path d="M768.8 1152.5L775.3 1163.8L762.3 1163.8Z" fill="#fff" stroke="#98e898" stroke-width="1.25"/><path d="M782.0 1141.4L788.5 1152.7L775.5 1152.7Z" fill="#fff" stroke="#98e898" stroke-width="1.25"/><path d="M795.2 1130.3L801.7 1141.6L788.7 1141.6Z" fill="#fff" stroke="#98e898" stroke-width="1.25"/><path d="M808.4 1119.2L814.9 1130.5L802.0 1130.5Z" fill="#fff" stroke="#98e898" stroke-width="1.25"/><path d="M821.7 1108.1L828.2 1119.4L815.2 1119.4Z" fill="#fff" stroke="#98e898" stroke-width="1.25"/><path d="M834.9 1097.0L841.4 1108.4L828.4 1108.4Z" fill="#fff" stroke="#98e898" stroke-width="1.25"/><path d="M848.1 1086.0L854.6 1097.3L841.6 1097.3Z" fill="#fff" stroke="#98e898" stroke-width="1.25"/><path d="M861.3 1074.9L867.8 1086.3L854.9 1086.3Z" fill="#fff" stroke="#98e898" stroke-width="1.25"/><path d="M874.6 1063.9L881.1 1075.3L868.1 1075.3Z" fill="#fff" stroke="#98e898" stroke-width="1.25"/><path d="M887.8 1052.9L894.3 1064.2L881.3 1064.2Z" fill="#fff" stroke="#98e898" stroke-width="1.25"/><path d="M901.0 1041.9L907.5 1053.2L894.5 1053.2Z" fill="#fff" stroke="#98e898" stroke-width="1.25"/><path d="M914.2 1030.9L920.7 1042.2L907.8 1042.2Z" fill="#fff" stroke="#98e898" stroke-width="1.25"/><path d="M927.5 1019.9L934.0 1031.2L921.0 1031.2Z" fill="#fff" stroke="#98e898" stroke-width="1.25"/><path d="M940.7 1008.9L947.2 1020.3L934.2 1020.3Z" fill="#fff" stroke="#98e898" stroke-width="1.25"/><path d="M953.9 998.0L960.4 1009.3L947.4 1009.3Z" fill="#fff" stroke="#98e898" stroke-width="1.25"/><path d="M967.1 987.0L973.6 998.4L960.7 998.4Z" fill="#fff" stroke="#98e898" stroke-width="1.25"/><path d="M980.4 976.1L986.9 987.4L973.9 987.4Z" fill="#fff" stroke="#98e898" stroke-width="1.25"/><path d="M993.6 965.1L1000.1 976.5L987.1 976.5Z" fill="#fff" stroke="#98e898" stroke-width="1.25"/><path d="M1006.8 954.2L1013.3 965.6L1000.3 965.6Z" fill="#fff" stroke="#98e898" stroke-width="1.25"/><path d="M1020.0 943.3L1026.5 954.7L1013.6 954.7Z" fill="#fff" stroke="#98e898" stroke-width="1.25"/><path d="M1033.3 932.4L1039.7 943.8L1026.8 943.8Z" fill="#fff" stroke="#98e898" stroke-width="1.25"/><path d="M1046.5 921.5L1053.0 932.9L1040.0 932.9Z" fill="#fff" stroke="#98e898" stroke-width="1.25"/><path d="M1059.7 910.7L1066.2 922.0L1053.2 922.0Z" fill="#fff" stroke="#98e898" stroke-width="1.25"/><path d="M1072.9 899.8L1079.4 911.2L1066.5 911.2Z" fill="#fff" stroke="#98e898" stroke-width="1.25"/><path d="M1086.2 889.0L1092.6 900.3L1079.7 900.3Z" fill="#fff" stroke="#98e898" stroke-width="1.25"/><path d="M1099.4 878.1L1105.9 889.5L1092.9 889.5Z" fill="#fff" stroke="#98e898" stroke-width="1.25"/><path d="M1112.6 867.3L1119.1 878.7L1106.1 878.7Z" fill="#fff" stroke="#98e898" stroke-width="1.25"/><path d="M1125.8 856.5L1132.3 867.9L1119.4 867.9Z" fill="#fff" stroke="#98e898" stroke-width="1.25"/><path d="M1139.1 845.7L1145.5 857.1L1132.6 857.1Z" fill="#fff" stroke="#98e898" stroke-width="1.25"/><path d="M1152.3 834.9L1158.8 846.3L1145.8 846.3Z" fill="#fff" stroke="#98e898" stroke-width="1.25"/><path d="M1165.5 824.2L1172.0 835.5L1159.0 835.5Z" fill="#fff" stroke="#98e898" stroke-width="1.25"/><path d="M1178.7 813.4L1185.2 824.8L1172.3 824.8Z" fill="#fff" stroke="#98e898" stroke-width="1.25"/><path d="M1192.0 802.7L1198.4 814.0L1185.5 814.0Z" fill="#fff" stroke="#98e898" stroke-width="1.25"/><path d="M1205.2 792.0L1211.7 803.3L1198.7 803.3Z" fill="#fff" stroke="#98e898" stroke-width="1.25"/><path d="M1218.4 781.2L1224.9 792.6L1211.9 792.6Z" fill="#fff" stroke="#98e898" stroke-width="1.25"/><path d="M1231.6 770.5L1238.1 781.9L1225.2 781.9Z" fill="#fff" stroke="#98e898" stroke-width="1.25"/><path d="M1244.9 759.8L1251.3 771.2L1238.4 771.2Z" fill="#fff" stroke="#98e898" stroke-width="1.25"/><path d="M1258.1 749.2L1264.6 760.5L1251.6 760.5Z" fill="#fff" stroke="#98e898" stroke-width="1.25"/><path d="M1271.3 738.5L1277.8 749.8L1264.8 749.8Z" fill="#fff" stroke="#98e898" stroke-width="1.25"/><path d="M1284.5 727.9L1291.0 739.2L1278.1 739.2Z" fill="#fff" stroke="#98e898" stroke-width="1.25"/><path d="M1297.8 717.2L1304.2 728.6L1291.3 728.6Z" fill="#fff" stroke="#98e898" stroke-width="1.25"/><path d="M1311.0 706.6L1317.5 717.9L1304.5 717.9Z" fill="#fff" stroke="#98e898" stroke-width="1.25"/><path d="M1324.2 696.0L1330.7 707.3L1317.7 707.3Z" fill="#fff" stroke="#98e898" stroke-width="1.25"/><path d="M1337.4 685.4L1343.9 696.7L1331.0 696.7Z" fill="#fff" stroke="#98e898" stroke-width="1.25"/><path d="M1350.7 674.8L1357.1 686.2L1344.2 686.2Z" fill="#fff" stroke="#98e898" stroke-width="1.25"/><path d="M1363.9 664.3L1370.4 675.6L1357.4 675.6Z" fill="#fff" stroke="#98e898" stroke-width="1.25"/><path d="M319.1 1742.4L326.3 1729.8L311.9 1729.8Z" fill="#0808f0"/><path d="M332.4 1730.7L339.6 1718.1L325.2 1718.1Z" fill="#0808f0"/><path d="M345.6 1718.9L352.8 1706.3L338.4 1706.3Z" fill="#0808f0"/><path d="M358.8 1707.2L366.0 1694.6L351.6 1694.6Z" fill="#0808f0"/><path d="M372.0 1695.4L379.2 1682.8L364.8 1682.8Z" fill="#0808f0"/><path d="M385.3 1683.7L392.5 1671.1L378.1 1671.1Z" fill="#0808f0"/><path d="M398.5 1672.0L405.7 1659.4L391.3 1659.4Z" fill="#0808f0"/><path d="M411.7 1660.4L418.9 1647.8L404.5 1647.8Z" fill="#0808f0"/><path d="M424.9 1648.7L432.1 1636.1L417.7 1636.1Z" fill="#0808f0"/><path d="M438.2 1637.0L445.4 1624.4L431.0 1624.4Z" fill="#0808f0"/><path d="M451.4 1625.4L458.6 1612.8L444.2 1612.8Z" fill="#0808f0"/><path d="M464.6 1613.8L471.8 1601.2L457.4 1601.2Z" fill="#0808f0"/><path d="M477.8 1602.2L485.0 1589.6L470.6 1589.6Z" fill="#0808f0"/><path d="M491.1 1590.6L498.3 1578.0L483.9 1578.0Z" fill="#0808f0"/><path d="M504.3 1579.0L511.5 1566.4L497.1 1566.4Z" fill="#0808f0"/><path d="M517.5 1567.4L524.7 1554.8L510.3 1554.8Z" fill="#0808f0"/><path d="M530.7 1555.9L537.9 1543.3L523.5 1543.3Z" fill="#0808f0"/><path d="M544.0 1544.3L551.2 1531.7L536.8 1531.7Z" fill="#0808f0"/><path d="M557.2 1532.8L564.4 1520.2L550.0 1520.2Z" fill="#0808f0"/><path d="M570.4 1521.3L577.6 1508.7L563.2 1508.7Z" fill="#0808f0"/><path d="M583.6 1509.8L590.8 1497.2L576.4 1497.2Z" fill="#0808f0"/><path d="M596.9 1498.3L604.1 1485.7L589.7 1485.7Z" fill="#0808f0"/><path d="M610.1 1486.8L617.3 1474.2L602.9 1474.2Z" fill="#0808f0"/><path d="M623.3 1475.3L630.5 1462.7L616.1 1462.7Z" fill="#0808f0"/><path d="M636.5 1463.9L643.7 1451.3L629.3 1451.3Z" fill="#0808f0"/><path d="M649.8 1452.4L657.0 1439.8L642.6 1439.8Z" fill="#0808f0"/><path d="M663.0 1441.0L670.2 1428.4L655.8 1428.4Z" fill="#0808f0"/><path d="M676.2 1429.6L683.4 1417.0L669.0 1417.0Z" fill="#0808f0"/><path d="M689.4 1418.2L696.6 1405.6L682.2 1405.6Z" fill="#0808f0"/><path d="M702.7 1406.8L709.9 1394.2L695.5 1394.2Z" fill="#0808f0"/><path d="M715.9 1395.5L723.1 1382.9L708.7 1382.9Z" fill="#0808f0"/><path d="M729.1 1384.1L736.3 1371.5L721.9 1371.5Z" fill="#0808f0"/><path d="M742.3 1372.8L749.5 1360.2L735.1 1360.2Z" fill="#0808f0"/><path d="M755.6 1361.4L762.8 1348.8L748.4 1348.8Z" fill="#0808f0"/><path d="M768.8 1350.1L776.0 1337.5L761.6 1337.5Z" fill="#0808f0"/><path d="M782.0 1338.8L789.2 1326.2L774.8 1326.2Z" fill="#0808f0"/><path d="M795.2 1327.5L802.4 1314.9L788.0 1314.9Z" fill="#0808f0"/><path d="M808.4 1316.3L815.6 1303.7L801.2 1303.7Z" fill="#0808f0"/><path d="M821.7 1305.0L828.9 1292.4L814.5 1292.4Z" fill="#0808f0"/><path d="M834.9 1293.8L842.1 1281.2L827.7 1281.2Z" fill="#0808f0"/><path d="M848.1 1282.5L855.3 1269.9L840.9 1269.9Z" fill="#0808f0"/><path d="M861.3 1271.3L868.5 1258.7L854.1 1258.7Z" fill="#0808f0"/><path d="M874.6 1260.1L881.8 1247.5L867.4 1247.5Z" fill="#0808f0"/><path d="M887.8 1248.9L895.0 1236.3L880.6 1236.3Z" fill="#0808f0"/><path d="M901.0 1237.8L908.2 1225.2L893.8 1225.2Z" fill="#0808f0"/><path d="M914.2 1226.6L921.4 1214.0L907.0 1214.0Z" fill="#0808f0"/><path d="M927.5 1215.4L934.7 1202.8L920.3 1202.8Z" fill="#0808f0"/><path d="M940.7 1204.3L947.9 1191.7L933.5 1191.7Z" fill="#0808f0"/><path d="M953.9 1193.2L961.1 1180.6L946.7 1180.6Z" fill="#0808f0"/><path d="M967.1 1182.1L974.3 1169.5L959.9 1169.5Z" fill="#0808f0"/><path d="M980.4 1171.0L987.6 1158.4L973.2 1158.4Z" fill="#0808f0"/><path d="M993.6 1159.9L1000.8 1147.3L986.4 1147.3Z" fill="#0808f0"/><path d="M1006.8 1148.9L1014.0 1136.3L999.6 1136.3Z" fill="#0808f0"/><path d="M1020.0 1137.8L1027.2 1125.2L1012.8 1125.2Z" fill="#0808f0"/><path d="M1033.3 1126.8L1040.5 1114.2L1026.1 1114.2Z" fill="#0808f0"/><path d="M1046.5 1115.7L1053.7 1103.1L1039.3 1103.1Z" fill="#0808f0"/><path d="M1059.7 1104.7L1066.9 1092.1L1052.5 1092.1Z" fill="#0808f0"/><path d="M1072.9 1093.7L1080.1 1081.1L1065.7 1081.1Z" fill="#0808f0"/><path d="M1086.2 1082.8L1093.4 1070.2L1079.0 1070.2Z" fill="#0808f0"/><path d="M1099.4 1071.8L1106.6 1059.2L1092.2 1059.2Z" fill="#0808f0"/><path d="M1112.6 1060.8L1119.8 1048.2L1105.4 1048.2Z" fill="#0808f0"/><path d="M1125.8 1049.9L1133.0 1037.3L1118.6 1037.3Z" fill="#0808f0"/><path d="M1139.1 1039.0L1146.3 1026.4L1131.9 1026.4Z" fill="#0808f0"/><path d="M1152.3 1028.1L1159.5 1015.5L1145.1 1015.5Z" fill="#0808f0"/><path d="M1165.5 1017.2L1172.7 1004.6L1158.3 1004.6Z" fill="#0808f0"/><path d="M1178.7 1006.3L1185.9 993.7L1171.5 993.7Z" fill="#0808f0"/><path d="M1192.0 995.4L1199.2 982.8L1184.8 982.8Z" fill="#0808f0"/><path d="M1205.2 984.6L1212.4 972.0L1198.0 972.0Z" fill="#0808f0"/><path d="M1218.4 973.7L1225.6 961.1L1211.2 961.1Z" fill="#0808f0"/><path d="M1231.6 962.9L1238.8 950.3L1224.4 950.3Z" fill="#0808f0"/><path d="M1244.9 952.1L1252.1 939.5L1237.7 939.5Z" fill="#0808f0"/><path d="M1258.1 941.3L1265.3 928.7L1250.9 928.7Z" fill="#0808f0"/><path d="M1271.3 930.5L1278.5 917.9L1264.1 917.9Z" fill="#0808f0"/><path d="M1284.5 919.7L1291.7 907.1L1277.3 907.1Z" fill="#0808f0"/><path d="M1297.8 909.0L1305.0 896.4L1290.6 896.4Z" fill="#0808f0"/><path d="M1311.0 898.2L1318.2 885.6L1303.8 885.6Z" fill="#0808f0"/><path d="M1324.2 887.5L1331.4 874.9L1317.0 874.9Z" fill="#0808f0"/><path d="M1337.4 876.8L1344.6 864.2L1330.2 864.2Z" fill="#0808f0"/><path d="M1350.7 866.1L1357.9 853.5L1343.5 853.5Z" fill="#0808f0"/><path d="M1363.9 855.4L1371.1 842.8L1356.7 842.8Z" fill="#0808f0"/><path d="M319.1 1716.6L325.6 1705.2L312.7 1705.2Z" fill="#fff" stroke="#7070f0" stroke-width="1.25"/><path d="M332.4 1705.0L338.8 1693.6L325.9 1693.6Z" fill="#fff" stroke="#7070f0" stroke-width="1.25"/><path d="M345.6 1693.4L352.1 1682.1L339.1 1682.1Z" fill="#fff" stroke="#7070f0" stroke-width="1.25"/><path d="M358.8 1681.9L365.3 1670.5L352.3 1670.5Z" fill="#fff" stroke="#7070f0" stroke-width="1.25"/><path d="M372.0 1670.3L378.5 1659.0L365.6 1659.0Z" fill="#fff" stroke="#7070f0" stroke-width="1.25"/><path d="M385.3 1658.8L391.7 1647.4L378.8 1647.4Z" fill="#fff" stroke="#7070f0" stroke-width="1.25"/><path d="M398.5 1647.3L405.0 1635.9L392.0 1635.9Z" fill="#fff" stroke="#7070f0" stroke-width="1.25"/><path d="M411.7 1635.8L418.2 1624.4L405.2 1624.4Z" fill="#fff" stroke="#7070f0" stroke-width="1.25"/><path d="M424.9 1624.3L431.4 1612.9L418.5 1612.9Z" fill="#fff" stroke="#7070f0" stroke-width="1.25"/><path d="M438.2 1612.8L444.6 1601.4L431.7 1601.4Z" fill="#fff" stroke="#7070f0" stroke-width="1.25"/><path d="M451.4 1601.3L457.9 1590.0L444.9 1590.0Z" fill="#fff" stroke="#7070f0" stroke-width="1.25"/><path d="M464.6 1589.9L471.1 1578.5L458.1 1578.5Z" fill="#fff" stroke="#7070f0" stroke-width="1.25"/><path d="M477.8 1578.4L484.3 1567.1L471.4 1567.1Z" fill="#fff" stroke="#7070f0" stroke-width="1.25"/><path d="M491.1 1567.0L497.5 1555.7L484.6 1555.7Z" fill="#fff" stroke="#7070f0" stroke-width="1.25"/><path d="M504.3 1555.6L510.8 1544.3L497.8 1544.3Z" fill="#fff" stroke="#7070f0" stroke-width="1.25"/><path d="M517.5 1544.2L524.0 1532.9L511.0 1532.9Z" fill="#fff" stroke="#7070f0" stroke-width="1.25"/><path d="M530.7 1532.8L537.2 1521.5L524.3 1521.5Z" fill="#fff" stroke="#7070f0" stroke-width="1.25"/><path d="M544.0 1521.4L550.4 1510.1L537.5 1510.1Z" fill="#fff" stroke="#7070f0" stroke-width="1.25"/><path d="M557.2 1510.1L563.7 1498.7L550.7 1498.7Z" fill="#fff" stroke="#7070f0" stroke-width="1.25"/><path d="M570.4 1498.7L576.9 1487.4L563.9 1487.4Z" fill="#fff" stroke="#7070f0" stroke-width="1.25"/><path d="M583.6 1487.4L590.1 1476.1L577.2 1476.1Z" fill="#fff" stroke="#7070f0" stroke-width="1.25"/><path d="M596.9 1476.1L603.3 1464.7L590.4 1464.7Z" fill="#fff" stroke="#7070f0" stroke-width="1.25"/><path d="M610.1 1464.8L616.6 1453.4L603.6 1453.4Z" fill="#fff" stroke="#7070f0" stroke-width="1.25"/><path d="M623.3 1453.5L629.8 1442.1L616.8 1442.1Z" fill="#fff" stroke="#7070f0" stroke-width="1.25"/><path d="M636.5 1442.2L643.0 1430.8L630.0 1430.8Z" fill="#fff" stroke="#7070f0" stroke-width="1.25"/><path d="M649.8 1430.9L656.2 1419.6L643.3 1419.6Z" fill="#fff" stroke="#7070f0" stroke-width="1.25"/><path d="M663.0 1419.6L669.5 1408.3L656.5 1408.3Z" fill="#fff" stroke="#7070f0" stroke-width="1.25"/><path d="M676.2 1408.4L682.7 1397.1L669.7 1397.1Z" fill="#fff" stroke="#7070f0" stroke-width="1.25"/><path d="M689.4 1397.2L695.9 1385.8L682.9 1385.8Z" fill="#fff" stroke="#7070f0" stroke-width="1.25"/><path d="M702.7 1385.9L709.1 1374.6L696.2 1374.6Z" fill="#fff" stroke="#7070f0" stroke-width="1.25"/><path d="M715.9 1374.7L722.4 1363.4L709.4 1363.4Z" fill="#fff" stroke="#7070f0" stroke-width="1.25"/><path d="M729.1 1363.5L735.6 1352.2L722.6 1352.2Z" fill="#fff" stroke="#7070f0" stroke-width="1.25"/><path d="M742.3 1352.3L748.8 1341.0L735.8 1341.0Z" fill="#fff" stroke="#7070f0" stroke-width="1.25"/><path d="M755.6 1341.1L762.0 1329.8L749.1 1329.8Z" fill="#fff" stroke="#7070f0" stroke-width="1.25"/><path d="M768.8 1330.0L775.3 1318.6L762.3 1318.6Z" fill="#fff" stroke="#7070f0" stroke-width="1.25"/><path d="M782.0 1318.8L788.5 1307.5L775.5 1307.5Z" fill="#fff" stroke="#7070f0" stroke-width="1.25"/><path d="M795.2 1307.7L801.7 1296.3L788.7 1296.3Z" fill="#fff" stroke="#7070f0" stroke-width="1.25"/><path d="M808.4 1296.5L814.9 1285.2L802.0 1285.2Z" fill="#fff" stroke="#7070f0" stroke-width="1.25"/><path d="M821.7 1285.4L828.2 1274.1L815.2 1274.1Z" fill="#fff" stroke="#7070f0" stroke-width="1.25"/><path d="M834.9 1274.3L841.4 1263.0L828.4 1263.0Z" fill="#fff" stroke="#7070f0" stroke-width="1.25"/><path d="M848.1 1263.2L854.6 1251.8L841.6 1251.8Z" fill="#fff" stroke="#7070f0" stroke-width="1.25"/><path d="M861.3 1252.1L867.8 1240.8L854.9 1240.8Z" fill="#fff" stroke="#7070f0" stroke-width="1.25"/><path d="M874.6 1241.0L881.1 1229.7L868.1 1229.7Z" fill="#fff" stroke="#7070f0" stroke-width="1.25"/><path d="M887.8 1229.9L894.3 1218.6L881.3 1218.6Z" fill="#fff" stroke="#7070f0" stroke-width="1.25"/><path d="M901.0 1218.9L907.5 1207.5L894.5 1207.5Z" fill="#fff" stroke="#7070f0" stroke-width="1.25"/><path d="M914.2 1207.8L920.7 1196.5L907.8 1196.5Z" fill="#fff" stroke="#7070f0" stroke-width="1.25"/><path d="M927.5 1196.8L934.0 1185.5L921.0 1185.5Z" fill="#fff" stroke="#7070f0" stroke-width="1.25"/><path d="M940.7 1185.8L947.2 1174.4L934.2 1174.4Z" fill="#fff" stroke="#7070f0" stroke-width="1.25"/><path d="M953.9 1174.7L960.4 1163.4L947.4 1163.4Z" fill="#fff" stroke="#7070f0" stroke-width="1.25"/><path d="M967.1 1163.7L973.6 1152.4L960.7 1152.4Z" fill="#fff" stroke="#7070f0" stroke-width="1.25"/><path d="M980.4 1152.7L986.9 1141.4L973.9 1141.4Z" fill="#fff" stroke="#7070f0" stroke-width="1.25"/><path d="M993.6 1141.8L1000.1 1130.4L987.1 1130.4Z" fill="#fff" stroke="#7070f0" stroke-width="1.25"/><path d="M1006.8 1130.8L1013.3 1119.4L1000.3 1119.4Z" fill="#fff" stroke="#7070f0" stroke-width="1.25"/><path d="M1020.0 1119.8L1026.5 1108.5L1013.6 1108.5Z" fill="#fff" stroke="#7070f0" stroke-width="1.25"/><path d="M1033.3 1108.8L1039.7 1097.5L1026.8 1097.5Z" fill="#fff" stroke="#7070f0" stroke-width="1.25"/><path d="M1046.5 1097.9L1053.0 1086.6L1040.0 1086.6Z" fill="#fff" stroke="#7070f0" stroke-width="1.25"/><path d="M1059.7 1087.0L1066.2 1075.6L1053.2 1075.6Z" fill="#fff" stroke="#7070f0" stroke-width="1.25"/><path d="M1072.9 1076.0L1079.4 1064.7L1066.5 1064.7Z" fill="#fff" stroke="#7070f0" stroke-width="1.25"/><path d="M1086.2 1065.1L1092.6 1053.8L1079.7 1053.8Z" fill="#fff" stroke="#7070f0" stroke-width="1.25"/><path d="M1099.4 1054.2L1105.9 1042.9L1092.9 1042.9Z" fill="#fff" stroke="#7070f0" stroke-width="1.25"/><path d="M1112.6 1043.3L1119.1 1031.9L1106.1 1031.9Z" fill="#fff" stroke="#7070f0" stroke-width="1.25"/><path d="M1125.8 1032.4L1132.3 1021.1L1119.4 1021.1Z" fill="#fff" stroke="#7070f0" stroke-width="1.25"/><path d="M1139.1 1021.5L1145.5 1010.2L1132.6 1010.2Z" fill="#fff" stroke="#7070f0" stroke-width="1.25"/><path d="M1152.3 1010.6L1158.8 999.3L1145.8 999.3Z" fill="#fff" stroke="#7070f0" stroke-width="1.25"/><path d="M1165.5 999.8L1172.0 988.4L1159.0 988.4Z" fill="#fff" stroke="#7070f0" stroke-width="1.25"/><path d="M1178.7 988.9L1185.2 977.6L1172.3 977.6Z" fill="#fff" stroke="#7070f0" stroke-width="1.25"/><path d="M1192.0 978.1L1198.4 966.7L1185.5 966.7Z" fill="#fff" stroke="#7070f0" stroke-width="1.25"/><path d="M1205.2 967.2L1211.7 955.9L1198.7 955.9Z" fill="#fff" stroke="#7070f0" stroke-width="1.25"/><path d="M1218.4 956.4L1224.9 945.0L1211.9 945.0Z" fill="#fff" stroke="#7070f0" stroke-width="1.25"/><path d="M1231.6 945.6L1238.1 934.2L1225.2 934.2Z" fill="#fff" stroke="#7070f0" stroke-width="1.25"/><path d="M1244.9 934.7L1251.3 923.4L1238.4 923.4Z" fill="#fff" stroke="#7070f0" stroke-width="1.25"/><path d="M1258.1 923.9L1264.6 912.6L1251.6 912.6Z" fill="#fff" stroke="#7070f0" stroke-width="1.25"/><path d="M1271.3 913.1L1277.8 901.8L1264.8 901.8Z" fill="#fff" stroke="#7070f0" stroke-width="1.25"/><path d="M1284.5 902.3L1291.0 891.0L1278.1 891.0Z" fill="#fff" stroke="#7070f0" stroke-width="1.25"/><path d="M1297.8 891.6L1304.2 880.2L1291.3 880.2Z" fill="#fff" stroke="#7070f0" stroke-width="1.25"/><path d="M1311.0 880.8L1317.5 869.4L1304.5 869.4Z" fill="#fff" stroke="#7070f0" stroke-width="1.25"/><path d="M1324.2 870.0L1330.7 858.7L1317.7 858.7Z" fill="#fff" stroke="#7070f0" stroke-width="1.25"/><path d="M1337.4 859.3L1343.9 847.9L1331.0 847.9Z" fill="#fff" stroke="#7070f0" stroke-width="1.25"/><path d="M1350.7 848.5L1357.1 837.2L1344.2 837.2Z" fill="#fff" stroke="#7070f0" stroke-width="1.25"/><path d="M1363.9 837.8L1370.4 826.4L1357.4 826.4Z" fill="#fff" stroke="#7070f0" stroke-width="1.25"/><path d="M319.1 1874.6L326.5 1882.0L319.1 1889.4L311.7 1882.0Z" fill="#f000f0"/><path d="M332.4 1863.1L339.8 1870.5L332.4 1877.9L325.0 1870.5Z" fill="#f000f0"/><path d="M345.6 1851.5L353.0 1858.9L345.6 1866.3L338.2 1858.9Z" fill="#f000f0"/><path d="M358.8 1840.0L366.2 1847.4L358.8 1854.8L351.4 1847.4Z" fill="#f000f0"/><path d="M372.0 1828.4L379.4 1835.8L372.0 1843.2L364.6 1835.8Z" fill="#f000f0"/><path d="M385.3 1816.8L392.7 1824.2L385.3 1831.6L377.9 1824.2Z" fill="#f000f0"/><path d="M398.5 1805.3L405.9 1812.7L398.5 1820.1L391.1 1812.7Z" fill="#f000f0"/><path d="M411.7 1793.7L419.1 1801.1L411.7 1808.5L404.3 1801.1Z" fill="#f000f0"/><path d="M424.9 1782.1L432.3 1789.5L424.9 1796.9L417.5 1789.5Z" fill="#f000f0"/><path d="M438.2 1770.6L445.6 1778.0L438.2 1785.4L430.8 1778.0Z" fill="#f000f0"/><path d="M451.4 1759.0L458.8 1766.4L451.4 1773.8L444.0 1766.4Z" fill="#f000f0"/><path d="M464.6 1747.4L472.0 1754.8L464.6 1762.2L457.2 1754.8Z" fill="#f000f0"/><path d="M477.8 1735.8L485.2 1743.2L477.8 1750.6L470.4 1743.2Z" fill="#f000f0"/><path d="M491.1 1724.2L498.5 1731.6L491.1 1739.0L483.7 1731.6Z" fill="#f000f0"/><path d="M504.3 1712.6L511.7 1720.0L504.3 1727.4L496.9 1720.0Z" fill="#f000f0"/><path d="M517.5 1701.1L524.9 1708.5L517.5 1715.9L510.1 1708.5Z" fill="#f000f0"/><path d="M530.7 1689.5L538.1 1696.9L530.7 1704.3L523.3 1696.9Z" fill="#f000f0"/><path d="M544.0 1677.9L551.4 1685.3L544.0 1692.7L536.6 1685.3Z" fill="#f000f0"/><path d="M557.2 1666.3L564.6 1673.7L557.2 1681.1L549.8 1673.7Z" fill="#f000f0"/><path d="M570.4 1654.7L577.8 1662.1L570.4 1669.5L563.0 1662.1Z" fill="#f000f0"/><path d="M583.6 1643.1L591.0 1650.5L583.6 1657.9L576.2 1650.5Z" fill="#f000f0"/><path d="M596.9 1631.5L604.3 1638.9L596.9 1646.3L589.5 1638.9Z" fill="#f000f0"/><path d="M610.1 1620.0L617.5 1627.4L610.1 1634.8L602.7 1627.4Z" fill="#f000f0"/><path d="M623.3 1608.4L630.7 1615.8L623.3 1623.2L615.9 1615.8Z" fill="#f000f0"/><path d="M636.5 1596.8L643.9 1604.2L636.5 1611.6L629.1 1604.2Z" fill="#f000f0"/><path d="M649.8 1585.2L657.2 1592.6L649.8 1600.0L642.4 1592.6Z" fill="#f000f0"/><path d="M663.0 1573.6L670.4 1581.0L663.0 1588.4L655.6 1581.0Z" fill="#f000f0"/><path d="M676.2 1562.1L683.6 1569.5L676.2 1576.9L668.8 1569.5Z" fill="#f000f0"/><path d="M689.4 1550.5L696.8 1557.9L689.4 1565.3L682.0 1557.9Z" fill="#f000f0"/><path d="M702.7 1538.9L710.1 1546.3L702.7 1553.7L695.3 1546.3Z" fill="#f000f0"/><path d="M715.9 1527.4L723.3 1534.8L715.9 1542.2L708.5 1534.8Z" fill="#f000f0"/><path d="M729.1 1515.8L736.5 1523.2L729.1 1530.6L721.7 1523.2Z" fill="#f000f0"/><path d="M742.3 1504.3L749.7 1511.7L742.3 1519.1L734.9 1511.7Z" fill="#f000f0"/><path d="M755.6 1492.7L763.0 1500.1L755.6 1507.5L748.2 1500.1Z" fill="#f000f0"/><path d="M768.8 1481.2L776.2 1488.6L768.8 1496.0L761.4 1488.6Z" fill="#f000f0"/><path d="M782.0 1469.7L789.4 1477.1L782.0 1484.5L774.6 1477.1Z" fill="#f000f0"/><path d="M795.2 1458.2L802.6 1465.6L795.2 1473.0L787.8 1465.6Z" fill="#f000f0"/><path d="M808.4 1446.6L815.8 1454.0L808.4 1461.4L801.0 1454.0Z" fill="#f000f0"/><path d="M821.7 1435.1L829.1 1442.5L821.7 1449.9L814.3 1442.5Z" fill="#f000f0"/><path d="M834.9 1423.6L842.3 1431.0L834.9 1438.4L827.5 1431.0Z" fill="#f000f0"/><path d="M848.1 1412.1L855.5 1419.5L848.1 1426.9L840.7 1419.5Z" fill="#f000f0"/><path d="M861.3 1400.7L868.7 1408.1L861.3 1415.5L853.9 1408.1Z" fill="#f000f0"/><path d="M874.6 1389.2L882.0 1396.6L874.6 1404.0L867.2 1396.6Z" fill="#f000f0"/><path d="M887.8 1377.7L895.2 1385.1L887.8 1392.5L880.4 1385.1Z" fill="#f000f0"/><path d="M901.0 1366.3L908.4 1373.7L901.0 1381.1L893.6 1373.7Z" fill="#f000f0"/><path d="M914.2 1354.8L921.6 1362.2L914.2 1369.6L906.8 1362.2Z" fill="#f000f0"/><path d="M927.5 1343.4L934.9 1350.8L927.5 1358.2L920.1 1350.8Z" fill="#f000f0"/><path d="M940.7 1332.0L948.1 1339.4L940.7 1346.8L933.3 1339.4Z" fill="#f000f0"/><path d="M953.9 1320.6L961.3 1328.0L953.9 1335.4L946.5 1328.0Z" fill="#f000f0"/><path d="M967.1 1309.2L974.5 1316.6L967.1 1324.0L959.7 1316.6Z" fill="#f000f0"/><path d="M980.4 1297.8L987.8 1305.2L980.4 1312.6L973.0 1305.2Z" fill="#f000f0"/><path d="M993.6 1286.4L1001.0 1293.8L993.6 1301.2L986.2 1293.8Z" fill="#f000f0"/><path d="M1006.8 1275.0L1014.2 1282.4L1006.8 1289.8L999.4 1282.4Z" fill="#f000f0"/><path d="M1020.0 1263.7L1027.4 1271.1L1020.0 1278.5L1012.6 1271.1Z" fill="#f000f0"/><path d="M1033.3 1252.3L1040.7 1259.7L1033.3 1267.1L1025.9 1259.7Z" fill="#f000f0"/><path d="M1046.5 1241.0L1053.9 1248.4L1046.5 1255.8L1039.1 1248.4Z" fill="#f000f0"/><path d="M1059.7 1229.7L1067.1 1237.1L1059.7 1244.5L1052.3 1237.1Z" fill="#f000f0"/><path d="M1072.9 1218.4L1080.3 1225.8L1072.9 1233.2L1065.5 1225.8Z" fill="#f000f0"/><path d="M1086.2 1207.1L1093.6 1214.5L1086.2 1221.9L1078.8 1214.5Z" fill="#f000f0"/><path d="M1099.4 1195.9L1106.8 1203.3L1099.4 1210.7L1092.0 1203.3Z" fill="#f000f0"/><path d="M1112.6 1184.6L1120.0 1192.0L1112.6 1199.4L1105.2 1192.0Z" fill="#f000f0"/><path d="M1125.8 1173.4L1133.2 1180.8L1125.8 1188.2L1118.4 1180.8Z" fill="#f000f0"/><path d="M1139.1 1162.2L1146.5 1169.6L1139.1 1177.0L1131.7 1169.6Z" fill="#f000f0"/><path d="M1152.3 1151.0L1159.7 1158.4L1152.3 1165.8L1144.9 1158.4Z" fill="#f000f0"/><path d="M1165.5 1139.8L1172.9 1147.2L1165.5 1154.6L1158.1 1147.2Z" fill="#f000f0"/><path d="M1178.7 1128.6L1186.1 1136.0L1178.7 1143.4L1171.3 1136.0Z" fill="#f000f0"/><path d="M1192.0 1117.5L1199.4 1124.9L1192.0 1132.3L1184.6 1124.9Z" fill="#f000f0"/><path d="M1205.2 1106.4L1212.6 1113.8L1205.2 1121.2L1197.8 1113.8Z" fill="#f000f0"/><path d="M1218.4 1095.3L1225.8 1102.7L1218.4 1110.1L1211.0 1102.7Z" fill="#f000f0"/><path d="M1231.6 1084.2L1239.0 1091.6L1231.6 1099.0L1224.2 1091.6Z" fill="#f000f0"/><path d="M1244.9 1073.1L1252.3 1080.5L1244.9 1087.9L1237.5 1080.5Z" fill="#f000f0"/><path d="M1258.1 1062.1L1265.5 1069.5L1258.1 1076.9L1250.7 1069.5Z" fill="#f000f0"/><path d="M1271.3 1051.0L1278.7 1058.4L1271.3 1065.8L1263.9 1058.4Z" fill="#f000f0"/><path d="M1284.5 1040.0L1291.9 1047.4L1284.5 1054.8L1277.1 1047.4Z" fill="#f000f0"/><path d="M1297.8 1029.0L1305.2 1036.4L1297.8 1043.8L1290.4 1036.4Z" fill="#f000f0"/><path d="M1311.0 1018.1L1318.4 1025.5L1311.0 1032.9L1303.6 1025.5Z" fill="#f000f0"/><path d="M1324.2 1007.1L1331.6 1014.5L1324.2 1021.9L1316.8 1014.5Z" fill="#f000f0"/><path d="M1337.4 996.2L1344.8 1003.6L1337.4 1011.0L1330.0 1003.6Z" fill="#f000f0"/><path d="M1350.7 985.3L1358.1 992.7L1350.7 1000.1L1343.3 992.7Z" fill="#f000f0"/><path d="M1363.9 974.4L1371.3 981.8L1363.9 989.2L1356.5 981.8Z" fill="#f000f0"/><path d="M319.1 1859.4L325.8 1866.1L319.1 1872.7L312.5 1866.1Z" fill="#fff" stroke="#f098f0" stroke-width="1.25"/><path d="M332.4 1847.9L339.0 1854.6L332.4 1861.2L325.7 1854.6Z" fill="#fff" stroke="#f098f0" stroke-width="1.25"/><path d="M345.6 1836.4L352.2 1843.0L345.6 1849.7L338.9 1843.0Z" fill="#fff" stroke="#f098f0" stroke-width="1.25"/><path d="M358.8 1824.8L365.5 1831.5L358.8 1838.1L352.2 1831.5Z" fill="#fff" stroke="#f098f0" stroke-width="1.25"/><path d="M372.0 1813.3L378.7 1819.9L372.0 1826.6L365.4 1819.9Z" fill="#fff" stroke="#f098f0" stroke-width="1.25"/><path d="M385.3 1801.7L391.9 1808.3L385.3 1815.0L378.6 1808.3Z" fill="#fff" stroke="#f098f0" stroke-width="1.25"/><path d="M398.5 1790.1L405.1 1796.8L398.5 1803.4L391.8 1796.8Z" fill="#fff" stroke="#f098f0" stroke-width="1.25"/><path d="M411.7 1778.5L418.4 1785.2L411.7 1791.8L405.0 1785.2Z" fill="#fff" stroke="#f098f0" stroke-width="1.25"/><path d="M424.9 1766.9L431.6 1773.6L424.9 1780.3L418.3 1773.6Z" fill="#fff" stroke="#f098f0" stroke-width="1.25"/><path d="M438.2 1755.3L444.8 1762.0L438.2 1768.7L431.5 1762.0Z" fill="#fff" stroke="#f098f0" stroke-width="1.25"/><path d="M451.4 1743.7L458.0 1750.4L451.4 1757.1L444.7 1750.4Z" fill="#fff" stroke="#f098f0" stroke-width="1.25"/><path d="M464.6 1732.1L471.3 1738.8L464.6 1745.5L457.9 1738.8Z" fill="#fff" stroke="#f098f0" stroke-width="1.25"/><path d="M477.8 1720.5L484.5 1727.2L477.8 1733.8L471.2 1727.2Z" fill="#fff" stroke="#f098f0" stroke-width="1.25"/><path d="M491.1 1708.9L497.7 1715.6L491.1 1722.2L484.4 1715.6Z" fill="#fff" stroke="#f098f0" stroke-width="1.25"/><path d="M504.3 1697.3L510.9 1703.9L504.3 1710.6L497.6 1703.9Z" fill="#fff" stroke="#f098f0" stroke-width="1.25"/><path d="M517.5 1685.7L524.2 1692.3L517.5 1699.0L510.8 1692.3Z" fill="#fff" stroke="#f098f0" stroke-width="1.25"/><path d="M530.7 1674.0L537.4 1680.7L530.7 1687.3L524.1 1680.7Z" fill="#fff" stroke="#f098f0" stroke-width="1.25"/><path d="M544.0 1662.4L550.6 1669.1L544.0 1675.7L537.3 1669.1Z" fill="#fff" stroke="#f098f0" stroke-width="1.25"/><path d="M557.2 1650.8L563.8 1657.4L557.2 1664.1L550.5 1657.4Z" fill="#fff" stroke="#f098f0" stroke-width="1.25"/><path d="M570.4 1639.1L577.1 1645.8L570.4 1652.5L563.7 1645.8Z" fill="#fff" stroke="#f098f0" stroke-width="1.25"/><path d="M583.6 1627.5L590.3 1634.2L583.6 1640.8L577.0 1634.2Z" fill="#fff" stroke="#f098f0" stroke-width="1.25"/><path d="M596.9 1615.9L603.5 1622.5L596.9 1629.2L590.2 1622.5Z" fill="#fff" stroke="#f098f0" stroke-width="1.25"/><path d="M610.1 1604.3L616.7 1610.9L610.1 1617.6L603.4 1610.9Z" fill="#fff" stroke="#f098f0" stroke-width="1.25"/><path d="M623.3 1592.6L630.0 1599.3L623.3 1605.9L616.6 1599.3Z" fill="#fff" stroke="#f098f0" stroke-width="1.25"/><path d="M636.5 1581.0L643.2 1587.7L636.5 1594.3L629.9 1587.7Z" fill="#fff" stroke="#f098f0" stroke-width="1.25"/><path d="M649.8 1569.4L656.4 1576.0L649.8 1582.7L643.1 1576.0Z" fill="#fff" stroke="#f098f0" stroke-width="1.25"/><path d="M663.0 1557.8L669.6 1564.4L663.0 1571.1L656.3 1564.4Z" fill="#fff" stroke="#f098f0" stroke-width="1.25"/><path d="M676.2 1546.1L682.9 1552.8L676.2 1559.5L669.5 1552.8Z" fill="#fff" stroke="#f098f0" stroke-width="1.25"/><path d="M689.4 1534.5L696.1 1541.2L689.4 1547.8L682.8 1541.2Z" fill="#fff" stroke="#f098f0" stroke-width="1.25"/><path d="M702.7 1522.9L709.3 1529.6L702.7 1536.2L696.0 1529.6Z" fill="#fff" stroke="#f098f0" stroke-width="1.25"/><path d="M715.9 1511.3L722.5 1518.0L715.9 1524.6L709.2 1518.0Z" fill="#fff" stroke="#f098f0" stroke-width="1.25"/><path d="M729.1 1499.7L735.8 1506.4L729.1 1513.0L722.4 1506.4Z" fill="#fff" stroke="#f098f0" stroke-width="1.25"/><path d="M742.3 1488.1L749.0 1494.8L742.3 1501.5L735.7 1494.8Z" fill="#fff" stroke="#f098f0" stroke-width="1.25"/><path d="M755.6 1476.6L762.2 1483.2L755.6 1489.9L748.9 1483.2Z" fill="#fff" stroke="#f098f0" stroke-width="1.25"/><path d="M768.8 1465.0L775.4 1471.6L768.8 1478.3L762.1 1471.6Z" fill="#fff" stroke="#f098f0" stroke-width="1.25"/><path d="M782.0 1453.4L788.7 1460.1L782.0 1466.7L775.3 1460.1Z" fill="#fff" stroke="#f098f0" stroke-width="1.25"/><path d="M795.2 1441.9L801.9 1448.5L795.2 1455.2L788.6 1448.5Z" fill="#fff" stroke="#f098f0" stroke-width="1.25"/><path d="M808.4 1430.3L815.1 1437.0L808.4 1443.6L801.8 1437.0Z" fill="#fff" stroke="#f098f0" stroke-width="1.25"/><path d="M821.7 1418.8L828.3 1425.5L821.7 1432.1L815.0 1425.5Z" fill="#fff" stroke="#f098f0" stroke-width="1.25"/><path d="M834.9 1407.3L841.6 1413.9L834.9 1420.6L828.2 1413.9Z" fill="#fff" stroke="#f098f0" stroke-width="1.25"/><path d="M848.1 1395.8L854.8 1402.4L848.1 1409.1L841.5 1402.4Z" fill="#fff" stroke="#f098f0" stroke-width="1.25"/><path d="M861.3 1384.3L868.0 1390.9L861.3 1397.6L854.7 1390.9Z" fill="#fff" stroke="#f098f0" stroke-width="1.25"/><path d="M874.6 1372.8L881.2 1379.4L874.6 1386.1L867.9 1379.4Z" fill="#fff" stroke="#f098f0" stroke-width="1.25"/><path d="M887.8 1361.3L894.5 1368.0L887.8 1374.6L881.1 1368.0Z" fill="#fff" stroke="#f098f0" stroke-width="1.25"/><path d="M901.0 1349.8L907.7 1356.5L901.0 1363.2L894.4 1356.5Z" fill="#fff" stroke="#f098f0" stroke-width="1.25"/><path d="M914.2 1338.4L920.9 1345.1L914.2 1351.7L907.6 1345.1Z" fill="#fff" stroke="#f098f0" stroke-width="1.25"/><path d="M927.5 1327.0L934.1 1333.6L927.5 1340.3L920.8 1333.6Z" fill="#fff" stroke="#f098f0" stroke-width="1.25"/><path d="M940.7 1315.6L947.4 1322.2L940.7 1328.9L934.0 1322.2Z" fill="#fff" stroke="#f098f0" stroke-width="1.25"/><path d="M953.9 1304.2L960.6 1310.8L953.9 1317.5L947.3 1310.8Z" fill="#fff" stroke="#f098f0" stroke-width="1.25"/><path d="M967.1 1292.8L973.8 1299.4L967.1 1306.1L960.5 1299.4Z" fill="#fff" stroke="#f098f0" stroke-width="1.25"/><path d="M980.4 1281.4L987.0 1288.1L980.4 1294.7L973.7 1288.1Z" fill="#fff" stroke="#f098f0" stroke-width="1.25"/><path d="M993.6 1270.1L1000.3 1276.7L993.6 1283.4L986.9 1276.7Z" fill="#fff" stroke="#f098f0" stroke-width="1.25"/><path d="M1006.8 1258.7L1013.5 1265.4L1006.8 1272.1L1000.2 1265.4Z" fill="#fff" stroke="#f098f0" stroke-width="1.25"/><path d="M1020.0 1247.4L1026.7 1254.1L1020.0 1260.8L1013.4 1254.1Z" fill="#fff" stroke="#f098f0" stroke-width="1.25"/><path d="M1033.3 1236.1L1039.9 1242.8L1033.3 1249.5L1026.6 1242.8Z" fill="#fff" stroke="#f098f0" stroke-width="1.25"/><path d="M1046.5 1224.9L1053.2 1231.5L1046.5 1238.2L1039.8 1231.5Z" fill="#fff" stroke="#f098f0" stroke-width="1.25"/><path d="M1059.7 1213.6L1066.4 1220.3L1059.7 1226.9L1053.1 1220.3Z" fill="#fff" stroke="#f098f0" stroke-width="1.25"/><path d="M1072.9 1202.4L1079.6 1209.1L1072.9 1215.7L1066.3 1209.1Z" fill="#fff" stroke="#f098f0" stroke-width="1.25"/><path d="M1086.2 1191.2L1092.8 1197.9L1086.2 1204.5L1079.5 1197.9Z" fill="#fff" stroke="#f098f0" stroke-width="1.25"/><path d="M1099.4 1180.0L1106.1 1186.7L1099.4 1193.3L1092.7 1186.7Z" fill="#fff" stroke="#f098f0" stroke-width="1.25"/><path d="M1112.6 1168.9L1119.3 1175.5L1112.6 1182.2L1106.0 1175.5Z" fill="#fff" stroke="#f098f0" stroke-width="1.25"/><path d="M1125.8 1157.7L1132.5 1164.4L1125.8 1171.1L1119.2 1164.4Z" fill="#fff" stroke="#f098f0" stroke-width="1.25"/><path d="M1139.1 1146.6L1145.7 1153.3L1139.1 1159.9L1132.4 1153.3Z" fill="#fff" stroke="#f098f0" stroke-width="1.25"/><path d="M1152.3 1135.5L1159.0 1142.2L1152.3 1148.9L1145.6 1142.2Z" fill="#fff" stroke="#f098f0" stroke-width="1.25"/><path d="M1165.5 1124.5L1172.2 1131.1L1165.5 1137.8L1158.9 1131.1Z" fill="#fff" stroke="#f098f0" stroke-width="1.25"/><path d="M1178.7 1113.4L1185.4 1120.1L1178.7 1126.8L1172.1 1120.1Z" fill="#fff" stroke="#f098f0" stroke-width="1.25"/><path d="M1192.0 1102.4L1198.6 1109.1L1192.0 1115.8L1185.3 1109.1Z" fill="#fff" stroke="#f098f0" stroke-width="1.25"/><path d="M1205.2 1091.5L1211.9 1098.1L1205.2 1104.8L1198.5 1098.1Z" fill="#fff" stroke="#f098f0" stroke-width="1.25"/><path d="M1218.4 1080.5L1225.1 1087.2L1218.4 1093.8L1211.8 1087.2Z" fill="#fff" stroke="#f098f0" stroke-width="1.25"/><path d="M1231.6 1069.6L1238.3 1076.3L1231.6 1082.9L1225.0 1076.3Z" fill="#fff" stroke="#f098f0" stroke-width="1.25"/><path d="M1244.9 1058.7L1251.5 1065.4L1244.9 1072.0L1238.2 1065.4Z" fill="#fff" stroke="#f098f0" stroke-width="1.25"/><path d="M1258.1 1047.8L1264.7 1054.5L1258.1 1061.2L1251.4 1054.5Z" fill="#fff" stroke="#f098f0" stroke-width="1.25"/><path d="M1271.3 1037.0L1278.0 1043.7L1271.3 1050.3L1264.7 1043.7Z" fill="#fff" stroke="#f098f0" stroke-width="1.25"/><path d="M1284.5 1026.2L1291.2 1032.9L1284.5 1039.5L1277.9 1032.9Z" fill="#fff" stroke="#f098f0" stroke-width="1.25"/><path d="M1297.8 1015.4L1304.4 1022.1L1297.8 1028.8L1291.1 1022.1Z" fill="#fff" stroke="#f098f0" stroke-width="1.25"/><path d="M1311.0 1004.7L1317.6 1011.4L1311.0 1018.0L1304.3 1011.4Z" fill="#fff" stroke="#f098f0" stroke-width="1.25"/><path d="M1324.2 994.0L1330.9 1000.7L1324.2 1007.3L1317.6 1000.7Z" fill="#fff" stroke="#f098f0" stroke-width="1.25"/><path d="M1337.4 983.3L1344.1 990.0L1337.4 996.6L1330.8 990.0Z" fill="#fff" stroke="#f098f0" stroke-width="1.25"/><path d="M1350.7 972.7L1357.3 979.3L1350.7 986.0L1344.0 979.3Z" fill="#fff" stroke="#f098f0" stroke-width="1.25"/><path d="M1363.9 962.1L1370.5 968.7L1363.9 975.4L1357.2 968.7Z" fill="#fff" stroke="#f098f0" stroke-width="1.25"/></g><rect x="595.5" y="602.5" width="348.5" height="1053" fill="rgba(235,60,70,0.13)" stroke="rgba(230,120,140,0.35)" stroke-width="3"/><path d="M249.0 128.5H1642.0V1950.5H249.0Z" fill="none" stroke="#000" stroke-width="3.3"/><path d="M228.5 128.2H1642.0" fill="none" stroke="#111" stroke-width="4.4"/><path d="M228.5 1951.3H1644.0" fill="none" stroke="#0a0a0a" stroke-width="3.8"/><path d="M1642.3 128.5V1952.5" fill="none" stroke="#0a0a0a" stroke-width="3.8"/><path d="M228.5 1950.5H249.0M238.5 1859.1H249.0M238.5 1805.6H249.0M238.5 1767.7H249.0M238.5 1738.2H249.0M238.5 1714.2H249.0M238.5 1693.9H249.0M238.5 1676.3H249.0M238.5 1660.7H249.0M228.5 1646.8H249.0M238.5 1555.4H249.0M238.5 1501.9H249.0M238.5 1464.0H249.0M238.5 1434.6H249.0M238.5 1410.5H249.0M238.5 1390.2H249.0M238.5 1372.6H249.0M238.5 1357.1H249.0M228.5 1343.2H249.0M238.5 1251.8H249.0M238.5 1198.3H249.0M238.5 1160.3H249.0M238.5 1130.9H249.0M238.5 1106.9H249.0M238.5 1086.5H249.0M238.5 1068.9H249.0M238.5 1053.4H249.0M228.5 1039.5H249.0M238.5 948.1H249.0M238.5 894.6H249.0M238.5 856.7H249.0M238.5 827.2H249.0M238.5 803.2H249.0M238.5 782.9H249.0M238.5 765.3H249.0M238.5 749.7H249.0M228.5 735.8H249.0M238.5 644.4H249.0M238.5 590.9H249.0M238.5 553.0H249.0M238.5 523.6H249.0M238.5 499.5H249.0M238.5 479.2H249.0M238.5 461.6H249.0M238.5 446.1H249.0M228.5 432.2H249.0M238.5 340.8H249.0M238.5 287.3H249.0M238.5 249.3H249.0M238.5 219.9H249.0M238.5 195.9H249.0M238.5 175.5H249.0M238.5 157.9H249.0M238.5 142.4H249.0M228.5 128.5H249.0M249.0 1950.5V1971.0M353.8 1950.5V1961.5M415.2 1950.5V1961.5M458.7 1950.5V1961.5M492.4 1950.5V1961.5M520.0 1950.5V1961.5M543.3 1950.5V1961.5M563.5 1950.5V1961.5M581.3 1950.5V1961.5M597.2 1950.5V1971.0M702.1 1950.5V1961.5M763.4 1950.5V1961.5M806.9 1950.5V1961.5M840.7 1950.5V1961.5M868.2 1950.5V1961.5M891.6 1950.5V1961.5M911.8 1950.5V1961.5M929.6 1950.5V1961.5M945.5 1950.5V1971.0M1050.3 1950.5V1961.5M1111.7 1950.5V1961.5M1155.2 1950.5V1961.5M1188.9 1950.5V1961.5M1216.5 1950.5V1961.5M1239.8 1950.5V1961.5M1260.0 1950.5V1961.5M1277.8 1950.5V1961.5M1293.8 1950.5V1971.0M1398.6 1950.5V1961.5M1459.9 1950.5V1961.5M1503.4 1950.5V1961.5M1537.2 1950.5V1961.5M1564.7 1950.5V1961.5M1588.1 1950.5V1961.5M1608.3 1950.5V1961.5M1626.1 1950.5V1961.5M1642.0 1950.5V1971.0" stroke="#000" stroke-width="3" fill="none"/><g font-family="'Liberation Serif', 'Times New Roman', serif"><text x="118.0" y="1972.8" font-size="74.24" textLength="72.3" lengthAdjust="spacingAndGlyphs" fill="#000" >10</text><text x="191.1" y="1943.3" font-size="48.48" textLength="23.2" lengthAdjust="spacingAndGlyphs" fill="#000" >0</text><text x="118.0" y="1669.1" font-size="74.24" textLength="72.3" lengthAdjust="spacingAndGlyphs" fill="#000" >10</text><text x="188.0" y="1639.6" font-size="49.23" textLength="27.9" lengthAdjust="spacingAndGlyphs" fill="#000" >1</text><text x="118.0" y="1365.5" font-size="74.24" textLength="72.3" lengthAdjust="spacingAndGlyphs" fill="#000" >10</text><text x="191.1" y="1336.0" font-size="49.23" textLength="23.8" lengthAdjust="spacingAndGlyphs" fill="#000" >2</text><text x="118.0" y="1061.8" font-size="74.24" textLength="72.3" lengthAdjust="spacingAndGlyphs" fill="#000" >10</text><text x="190.6" y="1032.3" font-size="48.48" textLength="23.8" lengthAdjust="spacingAndGlyphs" fill="#000" >3</text><text x="118.0" y="758.1" font-size="74.24" textLength="72.3" lengthAdjust="spacingAndGlyphs" fill="#000" >10</text><text x="192.2" y="728.6" font-size="49.23" textLength="20.7" lengthAdjust="spacingAndGlyphs" fill="#000" >4</text><text x="118.0" y="454.5" font-size="74.24" textLength="72.3" lengthAdjust="spacingAndGlyphs" fill="#000" >10</text><text x="190.1" y="425.0" font-size="49.23" textLength="24.4" lengthAdjust="spacingAndGlyphs" fill="#000" >5</text><text x="118.0" y="150.8" font-size="74.24" textLength="72.3" lengthAdjust="spacingAndGlyphs" fill="#000" >10</text><text x="191.2" y="121.3" font-size="48.48" textLength="22.7" lengthAdjust="spacingAndGlyphs" fill="#000" >6</text><text x="185.9" y="2036.4" font-size="75.15" textLength="121.5" lengthAdjust="spacingAndGlyphs" fill="#000" >0.01</text><text x="550.5" y="2036.4" font-size="75.15" textLength="87.3" lengthAdjust="spacingAndGlyphs" fill="#000" >0.1</text><text x="925.7" y="2036.4" font-size="76.31" textLength="34.1" lengthAdjust="spacingAndGlyphs" fill="#000" >1</text><text x="1255.6" y="2036.4" font-size="75.15" textLength="73.6" lengthAdjust="spacingAndGlyphs" fill="#000" >10</text><text x="1586.6" y="2036.4" font-size="75.15" textLength="109.3" lengthAdjust="spacingAndGlyphs" fill="#000" >100</text><text x="707.2" y="2097.0" font-size="73.38" textLength="476.4" lengthAdjust="spacingAndGlyphs" fill="#000" >Frequency (Hz)</text><g transform="rotate(-90)"><text x="-1394.1" y="87.7" font-size="71.67" textLength="708.5" lengthAdjust="spacingAndGlyphs" fill="#000" >Complex modulus (Pa)</text></g></g><g font-family="'Liberation Serif', 'Times New Roman', serif"><rect x="356.3" y="173.3" width="10.6" height="10.6" fill="#000000"/><rect x="546.5" y="173.9" width="9.4" height="9.4" fill="#fff" stroke="#8a8a8a" stroke-width="1.2"/><text x="433.4" y="200.6" font-size="58.03" textLength="43.8" lengthAdjust="spacingAndGlyphs" fill="#000" >&amp;</text><text x="622.7" y="200.6" font-size="60.46" textLength="133.0" lengthAdjust="spacingAndGlyphs" fill="#000" >40 °C</text><circle cx="361.6" cy="251.4" r="5.7" fill="#f00000"/><circle cx="551.2" cy="251.4" r="5.0" fill="#fff" stroke="#f08a8a" stroke-width="1.2"/><text x="433.4" y="273.4" font-size="58.03" textLength="43.8" lengthAdjust="spacingAndGlyphs" fill="#000" >&amp;</text><text x="620.3" y="273.4" font-size="60.46" textLength="135.4" lengthAdjust="spacingAndGlyphs" fill="#000" >50 °C</text><path d="M361.6 318.7L368.1 330.1L355.1 330.1Z" fill="#16e82a"/><path d="M551.2 319.4L557.0 329.4L545.4 329.4Z" fill="#fff" stroke="#90e090" stroke-width="1.2"/><text x="433.4" y="346.4" font-size="58.03" textLength="43.8" lengthAdjust="spacingAndGlyphs" fill="#000" >&amp;</text><text x="621.5" y="346.4" font-size="60.46" textLength="134.2" lengthAdjust="spacingAndGlyphs" fill="#000" >60 °C</text><path d="M361.6 402.7L368.1 391.3L355.1 391.3Z" fill="#0808f0"/><path d="M551.2 402.0L557.0 392.0L545.4 392.0Z" fill="#fff" stroke="#8080f0" stroke-width="1.2"/><text x="433.4" y="419.0" font-size="58.03" textLength="43.8" lengthAdjust="spacingAndGlyphs" fill="#000" >&amp;</text><text x="620.3" y="419.0" font-size="60.46" textLength="135.4" lengthAdjust="spacingAndGlyphs" fill="#000" >70 °C</text><path d="M361.6 463.0L368.3 469.7L361.6 476.4L354.9 469.7Z" fill="#f000f0"/><path d="M551.2 463.8L557.1 469.7L551.2 475.6L545.3 469.7Z" fill="#fff" stroke="#f090f0" stroke-width="1.2"/><text x="433.4" y="491.7" font-size="58.03" textLength="43.8" lengthAdjust="spacingAndGlyphs" fill="#000" >&amp;</text><text x="621.5" y="491.7" font-size="60.46" textLength="134.2" lengthAdjust="spacingAndGlyphs" fill="#000" >80 °C</text><text x="315.6" y="565.8" font-size="59.08" textLength="163.6" lengthAdjust="spacingAndGlyphs" fill="#000" >Base &amp;</text><text x="508.1" y="565.8" font-size="59.08" textLength="221.5" lengthAdjust="spacingAndGlyphs" fill="#000" >Modified</text></g><path d="M946.4 1657.1L1749.3 957.4" stroke="#e8000c" stroke-width="6" stroke-linecap="round"/><path d="M1797.6 915.4L1756.8 972.1L1735.8 948.0Z" fill="#f00008"/><clipPath id="ic"><rect x="1801.0" y="126.5" width="517.0" height="1825.1"/></clipPath><g clip-path="url(#ic)"><rect x="1737.1" y="673.5" width="11.8" height="11.8" fill="#000000"/><rect x="1756.7" y="654.4" width="11.8" height="11.8" fill="#000000"/><rect x="1776.4" y="635.3" width="11.8" height="11.8" fill="#000000"/><rect x="1796.0" y="616.3" width="11.8" height="11.8" fill="#000000"/><rect x="1815.6" y="597.4" width="11.8" height="11.8" fill="#000000"/><rect x="1835.3" y="578.4" width="11.8" height="11.8" fill="#000000"/><rect x="1854.9" y="559.5" width="11.8" height="11.8" fill="#000000"/><rect x="1874.5" y="540.7" width="11.8" height="11.8" fill="#000000"/><rect x="1894.2" y="521.9" width="11.8" height="11.8" fill="#000000"/><rect x="1913.8" y="503.1" width="11.8" height="11.8" fill="#000000"/><rect x="1933.4" y="484.3" width="11.8" height="11.8" fill="#000000"/><rect x="1953.1" y="465.6" width="11.8" height="11.8" fill="#000000"/><rect x="1972.7" y="447.0" width="11.8" height="11.8" fill="#000000"/><rect x="1992.3" y="428.4" width="11.8" height="11.8" fill="#000000"/><rect x="2012.0" y="409.8" width="11.8" height="11.8" fill="#000000"/><rect x="2031.6" y="391.2" width="11.8" height="11.8" fill="#000000"/><rect x="2051.2" y="372.8" width="11.8" height="11.8" fill="#000000"/><rect x="2070.9" y="354.3" width="11.8" height="11.8" fill="#000000"/><rect x="2090.5" y="335.9" width="11.8" height="11.8" fill="#000000"/><rect x="2110.1" y="317.5" width="11.8" height="11.8" fill="#000000"/><rect x="2129.8" y="299.2" width="11.8" height="11.8" fill="#000000"/><rect x="2149.4" y="280.9" width="11.8" height="11.8" fill="#000000"/><rect x="2169.0" y="262.7" width="11.8" height="11.8" fill="#000000"/><rect x="2188.7" y="244.5" width="11.8" height="11.8" fill="#000000"/><rect x="2208.3" y="226.3" width="11.8" height="11.8" fill="#000000"/><rect x="2227.9" y="208.2" width="11.8" height="11.8" fill="#000000"/><rect x="2247.6" y="190.2" width="11.8" height="11.8" fill="#000000"/><rect x="2267.2" y="172.2" width="11.8" height="11.8" fill="#000000"/><rect x="2286.8" y="154.2" width="11.8" height="11.8" fill="#000000"/><rect x="2306.5" y="136.3" width="11.8" height="11.8" fill="#000000"/><rect x="2326.1" y="118.4" width="11.8" height="11.8" fill="#000000"/><rect x="2345.7" y="100.6" width="11.8" height="11.8" fill="#000000"/><rect x="1737.7" y="662.2" width="10.6" height="10.6" fill="#fff" stroke="#787878" stroke-width="1.25"/><rect x="1757.3" y="643.2" width="10.6" height="10.6" fill="#fff" stroke="#787878" stroke-width="1.25"/><rect x="1777.0" y="624.2" width="10.6" height="10.6" fill="#fff" stroke="#787878" stroke-width="1.25"/><rect x="1796.6" y="605.2" width="10.6" height="10.6" fill="#fff" stroke="#787878" stroke-width="1.25"/><rect x="1816.2" y="586.3" width="10.6" height="10.6" fill="#fff" stroke="#787878" stroke-width="1.25"/><rect x="1835.9" y="567.4" width="10.6" height="10.6" fill="#fff" stroke="#787878" stroke-width="1.25"/><rect x="1855.5" y="548.5" width="10.6" height="10.6" fill="#fff" stroke="#787878" stroke-width="1.25"/><rect x="1875.1" y="529.6" width="10.6" height="10.6" fill="#fff" stroke="#787878" stroke-width="1.25"/><rect x="1894.8" y="510.8" width="10.6" height="10.6" fill="#fff" stroke="#787878" stroke-width="1.25"/><rect x="1914.4" y="492.0" width="10.6" height="10.6" fill="#fff" stroke="#787878" stroke-width="1.25"/><rect x="1934.0" y="473.2" width="10.6" height="10.6" fill="#fff" stroke="#787878" stroke-width="1.25"/><rect x="1953.7" y="454.5" width="10.6" height="10.6" fill="#fff" stroke="#787878" stroke-width="1.25"/><rect x="1973.3" y="435.8" width="10.6" height="10.6" fill="#fff" stroke="#787878" stroke-width="1.25"/><rect x="1992.9" y="417.1" width="10.6" height="10.6" fill="#fff" stroke="#787878" stroke-width="1.25"/><rect x="2012.6" y="398.5" width="10.6" height="10.6" fill="#fff" stroke="#787878" stroke-width="1.25"/><rect x="2032.2" y="379.9" width="10.6" height="10.6" fill="#fff" stroke="#787878" stroke-width="1.25"/><rect x="2051.8" y="361.3" width="10.6" height="10.6" fill="#fff" stroke="#787878" stroke-width="1.25"/><rect x="2071.5" y="342.7" width="10.6" height="10.6" fill="#fff" stroke="#787878" stroke-width="1.25"/><rect x="2091.1" y="324.3" width="10.6" height="10.6" fill="#fff" stroke="#787878" stroke-width="1.25"/><rect x="2110.7" y="305.8" width="10.6" height="10.6" fill="#fff" stroke="#787878" stroke-width="1.25"/><rect x="2130.4" y="287.4" width="10.6" height="10.6" fill="#fff" stroke="#787878" stroke-width="1.25"/><rect x="2150.0" y="269.0" width="10.6" height="10.6" fill="#fff" stroke="#787878" stroke-width="1.25"/><rect x="2169.6" y="250.7" width="10.6" height="10.6" fill="#fff" stroke="#787878" stroke-width="1.25"/><rect x="2189.3" y="232.4" width="10.6" height="10.6" fill="#fff" stroke="#787878" stroke-width="1.25"/><rect x="2208.9" y="214.1" width="10.6" height="10.6" fill="#fff" stroke="#787878" stroke-width="1.25"/><rect x="2228.5" y="195.9" width="10.6" height="10.6" fill="#fff" stroke="#787878" stroke-width="1.25"/><rect x="2248.2" y="177.7" width="10.6" height="10.6" fill="#fff" stroke="#787878" stroke-width="1.25"/><rect x="2267.8" y="159.6" width="10.6" height="10.6" fill="#fff" stroke="#787878" stroke-width="1.25"/><rect x="2287.4" y="141.6" width="10.6" height="10.6" fill="#fff" stroke="#787878" stroke-width="1.25"/><rect x="2307.1" y="123.5" width="10.6" height="10.6" fill="#fff" stroke="#787878" stroke-width="1.25"/><rect x="2326.7" y="105.6" width="10.6" height="10.6" fill="#fff" stroke="#787878" stroke-width="1.25"/><rect x="2346.3" y="87.6" width="10.6" height="10.6" fill="#fff" stroke="#787878" stroke-width="1.25"/><circle cx="1743.0" cy="1081.5" r="6.3" fill="#f00000"/><circle cx="1762.6" cy="1061.9" r="6.3" fill="#f00000"/><circle cx="1782.3" cy="1042.3" r="6.3" fill="#f00000"/><circle cx="1801.9" cy="1022.7" r="6.3" fill="#f00000"/><circle cx="1821.5" cy="1003.2" r="6.3" fill="#f00000"/><circle cx="1841.2" cy="983.7" r="6.3" fill="#f00000"/><circle cx="1860.8" cy="964.1" r="6.3" fill="#f00000"/><circle cx="1880.4" cy="944.7" r="6.3" fill="#f00000"/><circle cx="1900.1" cy="925.2" r="6.3" fill="#f00000"/><circle cx="1919.7" cy="905.7" r="6.3" fill="#f00000"/><circle cx="1939.3" cy="886.3" r="6.3" fill="#f00000"/><circle cx="1959.0" cy="866.9" r="6.3" fill="#f00000"/><circle cx="1978.6" cy="847.5" r="6.3" fill="#f00000"/><circle cx="1998.2" cy="828.2" r="6.3" fill="#f00000"/><circle cx="2017.9" cy="808.8" r="6.3" fill="#f00000"/><circle cx="2037.5" cy="789.5" r="6.3" fill="#f00000"/><circle cx="2057.1" cy="770.3" r="6.3" fill="#f00000"/><circle cx="2076.8" cy="751.0" r="6.3" fill="#f00000"/><circle cx="2096.4" cy="731.8" r="6.3" fill="#f00000"/><circle cx="2116.0" cy="712.6" r="6.3" fill="#f00000"/><circle cx="2135.7" cy="693.4" r="6.3" fill="#f00000"/><circle cx="2155.3" cy="674.3" r="6.3" fill="#f00000"/><circle cx="2174.9" cy="655.1" r="6.3" fill="#f00000"/><circle cx="2194.6" cy="636.0" r="6.3" fill="#f00000"/><circle cx="2214.2" cy="617.0" r="6.3" fill="#f00000"/><circle cx="2233.8" cy="597.9" r="6.3" fill="#f00000"/><circle cx="2253.5" cy="578.9" r="6.3" fill="#f00000"/><circle cx="2273.1" cy="560.0" r="6.3" fill="#f00000"/><circle cx="2292.7" cy="541.0" r="6.3" fill="#f00000"/><circle cx="2312.4" cy="522.1" r="6.3" fill="#f00000"/><circle cx="2332.0" cy="503.2" r="6.3" fill="#f00000"/><circle cx="2351.6" cy="484.4" r="6.3" fill="#f00000"/><circle cx="1743.0" cy="1061.7" r="5.7" fill="#fff" stroke="#f06868" stroke-width="1.25"/><circle cx="1762.6" cy="1042.1" r="5.7" fill="#fff" stroke="#f06868" stroke-width="1.25"/><circle cx="1782.3" cy="1022.5" r="5.7" fill="#fff" stroke="#f06868" stroke-width="1.25"/><circle cx="1801.9" cy="1002.9" r="5.7" fill="#fff" stroke="#f06868" stroke-width="1.25"/><circle cx="1821.5" cy="983.3" r="5.7" fill="#fff" stroke="#f06868" stroke-width="1.25"/><circle cx="1841.2" cy="963.8" r="5.7" fill="#fff" stroke="#f06868" stroke-width="1.25"/><circle cx="1860.8" cy="944.2" r="5.7" fill="#fff" stroke="#f06868" stroke-width="1.25"/><circle cx="1880.4" cy="924.7" r="5.7" fill="#fff" stroke="#f06868" stroke-width="1.25"/><circle cx="1900.1" cy="905.2" r="5.7" fill="#fff" stroke="#f06868" stroke-width="1.25"/><circle cx="1919.7" cy="885.8" r="5.7" fill="#fff" stroke="#f06868" stroke-width="1.25"/><circle cx="1939.3" cy="866.3" r="5.7" fill="#fff" stroke="#f06868" stroke-width="1.25"/><circle cx="1959.0" cy="846.9" r="5.7" fill="#fff" stroke="#f06868" stroke-width="1.25"/><circle cx="1978.6" cy="827.5" r="5.7" fill="#fff" stroke="#f06868" stroke-width="1.25"/><circle cx="1998.2" cy="808.1" r="5.7" fill="#fff" stroke="#f06868" stroke-width="1.25"/><circle cx="2017.9" cy="788.8" r="5.7" fill="#fff" stroke="#f06868" stroke-width="1.25"/><circle cx="2037.5" cy="769.5" r="5.7" fill="#fff" stroke="#f06868" stroke-width="1.25"/><circle cx="2057.1" cy="750.2" r="5.7" fill="#fff" stroke="#f06868" stroke-width="1.25"/><circle cx="2076.8" cy="730.9" r="5.7" fill="#fff" stroke="#f06868" stroke-width="1.25"/><circle cx="2096.4" cy="711.6" r="5.7" fill="#fff" stroke="#f06868" stroke-width="1.25"/><circle cx="2116.0" cy="692.4" r="5.7" fill="#fff" stroke="#f06868" stroke-width="1.25"/><circle cx="2135.7" cy="673.2" r="5.7" fill="#fff" stroke="#f06868" stroke-width="1.25"/><circle cx="2155.3" cy="654.0" r="5.7" fill="#fff" stroke="#f06868" stroke-width="1.25"/><circle cx="2174.9" cy="634.9" r="5.7" fill="#fff" stroke="#f06868" stroke-width="1.25"/><circle cx="2194.6" cy="615.8" r="5.7" fill="#fff" stroke="#f06868" stroke-width="1.25"/><circle cx="2214.2" cy="596.7" r="5.7" fill="#fff" stroke="#f06868" stroke-width="1.25"/><circle cx="2233.8" cy="577.6" r="5.7" fill="#fff" stroke="#f06868" stroke-width="1.25"/><circle cx="2253.5" cy="558.6" r="5.7" fill="#fff" stroke="#f06868" stroke-width="1.25"/><circle cx="2273.1" cy="539.6" r="5.7" fill="#fff" stroke="#f06868" stroke-width="1.25"/><circle cx="2292.7" cy="520.6" r="5.7" fill="#fff" stroke="#f06868" stroke-width="1.25"/><circle cx="2312.4" cy="501.7" r="5.7" fill="#fff" stroke="#f06868" stroke-width="1.25"/><circle cx="2332.0" cy="482.8" r="5.7" fill="#fff" stroke="#f06868" stroke-width="1.25"/><circle cx="2351.6" cy="463.9" r="5.7" fill="#fff" stroke="#f06868" stroke-width="1.25"/><path d="M1743.0 1423.4L1750.2 1436.0L1735.8 1436.0Z" fill="#16e82a"/><path d="M1762.6 1403.6L1769.8 1416.2L1755.4 1416.2Z" fill="#16e82a"/><path d="M1782.3 1383.9L1789.5 1396.5L1775.1 1396.5Z" fill="#16e82a"/><path d="M1801.9 1364.2L1809.1 1376.8L1794.7 1376.8Z" fill="#16e82a"/><path d="M1821.5 1344.4L1828.7 1357.0L1814.3 1357.0Z" fill="#16e82a"/><path d="M1841.2 1324.7L1848.4 1337.3L1834.0 1337.3Z" fill="#16e82a"/><path d="M1860.8 1305.0L1868.0 1317.6L1853.6 1317.6Z" fill="#16e82a"/><path d="M1880.4 1285.3L1887.6 1297.9L1873.2 1297.9Z" fill="#16e82a"/><path d="M1900.1 1265.6L1907.3 1278.2L1892.9 1278.2Z" fill="#16e82a"/><path d="M1919.7 1245.9L1926.9 1258.5L1912.5 1258.5Z" fill="#16e82a"/><path d="M1939.3 1226.2L1946.5 1238.8L1932.1 1238.8Z" fill="#16e82a"/><path d="M1959.0 1206.5L1966.2 1219.1L1951.8 1219.1Z" fill="#16e82a"/><path d="M1978.6 1186.9L1985.8 1199.5L1971.4 1199.5Z" fill="#16e82a"/><path d="M1998.2 1167.2L2005.4 1179.8L1991.0 1179.8Z" fill="#16e82a"/><path d="M2017.9 1147.6L2025.1 1160.2L2010.7 1160.2Z" fill="#16e82a"/><path d="M2037.5 1127.9L2044.7 1140.5L2030.3 1140.5Z" fill="#16e82a"/><path d="M2057.1 1108.3L2064.3 1120.9L2049.9 1120.9Z" fill="#16e82a"/><path d="M2076.8 1088.7L2084.0 1101.3L2069.6 1101.3Z" fill="#16e82a"/><path d="M2096.4 1069.1L2103.6 1081.7L2089.2 1081.7Z" fill="#16e82a"/><path d="M2116.0 1049.5L2123.2 1062.1L2108.8 1062.1Z" fill="#16e82a"/><path d="M2135.7 1029.9L2142.9 1042.5L2128.5 1042.5Z" fill="#16e82a"/><path d="M2155.3 1010.3L2162.5 1022.9L2148.1 1022.9Z" fill="#16e82a"/><path d="M2174.9 990.8L2182.1 1003.4L2167.7 1003.4Z" fill="#16e82a"/><path d="M2194.6 971.2L2201.8 983.8L2187.4 983.8Z" fill="#16e82a"/><path d="M2214.2 951.7L2221.4 964.3L2207.0 964.3Z" fill="#16e82a"/><path d="M2233.8 932.2L2241.0 944.8L2226.6 944.8Z" fill="#16e82a"/><path d="M2253.5 912.7L2260.7 925.3L2246.3 925.3Z" fill="#16e82a"/><path d="M2273.1 893.3L2280.3 905.9L2265.9 905.9Z" fill="#16e82a"/><path d="M2292.7 873.8L2299.9 886.4L2285.5 886.4Z" fill="#16e82a"/><path d="M2312.4 854.4L2319.6 867.0L2305.2 867.0Z" fill="#16e82a"/><path d="M2332.0 835.0L2339.2 847.6L2324.8 847.6Z" fill="#16e82a"/><path d="M2351.6 815.6L2358.8 828.2L2344.4 828.2Z" fill="#16e82a"/><path d="M1743.0 1398.7L1749.5 1410.0L1736.5 1410.0Z" fill="#fff" stroke="#98e898" stroke-width="1.25"/><path d="M1762.6 1378.8L1769.1 1390.1L1756.2 1390.1Z" fill="#fff" stroke="#98e898" stroke-width="1.25"/><path d="M1782.3 1358.9L1788.8 1370.2L1775.8 1370.2Z" fill="#fff" stroke="#98e898" stroke-width="1.25"/><path d="M1801.9 1339.0L1808.4 1350.4L1795.4 1350.4Z" fill="#fff" stroke="#98e898" stroke-width="1.25"/><path d="M1821.5 1319.2L1828.0 1330.5L1815.1 1330.5Z" fill="#fff" stroke="#98e898" stroke-width="1.25"/><path d="M1841.2 1299.4L1847.7 1310.7L1834.7 1310.7Z" fill="#fff" stroke="#98e898" stroke-width="1.25"/><path d="M1860.8 1279.6L1867.3 1290.9L1854.3 1290.9Z" fill="#fff" stroke="#98e898" stroke-width="1.25"/><path d="M1880.4 1259.8L1886.9 1271.1L1874.0 1271.1Z" fill="#fff" stroke="#98e898" stroke-width="1.25"/><path d="M1900.1 1240.0L1906.6 1251.3L1893.6 1251.3Z" fill="#fff" stroke="#98e898" stroke-width="1.25"/><path d="M1919.7 1220.2L1926.2 1231.6L1913.2 1231.6Z" fill="#fff" stroke="#98e898" stroke-width="1.25"/><path d="M1939.3 1200.5L1945.8 1211.8L1932.9 1211.8Z" fill="#fff" stroke="#98e898" stroke-width="1.25"/><path d="M1959.0 1180.7L1965.5 1192.1L1952.5 1192.1Z" fill="#fff" stroke="#98e898" stroke-width="1.25"/><path d="M1978.6 1161.0L1985.1 1172.4L1972.1 1172.4Z" fill="#fff" stroke="#98e898" stroke-width="1.25"/><path d="M1998.2 1141.3L2004.7 1152.7L1991.8 1152.7Z" fill="#fff" stroke="#98e898" stroke-width="1.25"/><path d="M2017.9 1121.7L2024.4 1133.0L2011.4 1133.0Z" fill="#fff" stroke="#98e898" stroke-width="1.25"/><path d="M2037.5 1102.0L2044.0 1113.3L2031.0 1113.3Z" fill="#fff" stroke="#98e898" stroke-width="1.25"/><path d="M2057.1 1082.4L2063.6 1093.7L2050.7 1093.7Z" fill="#fff" stroke="#98e898" stroke-width="1.25"/><path d="M2076.8 1062.7L2083.3 1074.1L2070.3 1074.1Z" fill="#fff" stroke="#98e898" stroke-width="1.25"/><path d="M2096.4 1043.1L2102.9 1054.5L2089.9 1054.5Z" fill="#fff" stroke="#98e898" stroke-width="1.25"/><path d="M2116.0 1023.5L2122.5 1034.9L2109.6 1034.9Z" fill="#fff" stroke="#98e898" stroke-width="1.25"/><path d="M2135.7 1004.0L2142.2 1015.3L2129.2 1015.3Z" fill="#fff" stroke="#98e898" stroke-width="1.25"/><path d="M2155.3 984.4L2161.8 995.8L2148.8 995.8Z" fill="#fff" stroke="#98e898" stroke-width="1.25"/><path d="M2174.9 964.9L2181.4 976.2L2168.5 976.2Z" fill="#fff" stroke="#98e898" stroke-width="1.25"/><path d="M2194.6 945.4L2201.1 956.7L2188.1 956.7Z" fill="#fff" stroke="#98e898" stroke-width="1.25"/><path d="M2214.2 925.9L2220.7 937.2L2207.7 937.2Z" fill="#fff" stroke="#98e898" stroke-width="1.25"/><path d="M2233.8 906.4L2240.3 917.8L2227.4 917.8Z" fill="#fff" stroke="#98e898" stroke-width="1.25"/><path d="M2253.5 887.0L2260.0 898.3L2247.0 898.3Z" fill="#fff" stroke="#98e898" stroke-width="1.25"/><path d="M2273.1 867.5L2279.6 878.9L2266.6 878.9Z" fill="#fff" stroke="#98e898" stroke-width="1.25"/><path d="M2292.7 848.1L2299.2 859.5L2286.3 859.5Z" fill="#fff" stroke="#98e898" stroke-width="1.25"/><path d="M2312.4 828.7L2318.8 840.1L2305.9 840.1Z" fill="#fff" stroke="#98e898" stroke-width="1.25"/><path d="M2332.0 809.4L2338.5 820.7L2325.5 820.7Z" fill="#fff" stroke="#98e898" stroke-width="1.25"/><path d="M2351.6 790.0L2358.1 801.3L2345.2 801.3Z" fill="#fff" stroke="#98e898" stroke-width="1.25"/><path d="M1743.0 1745.2L1750.2 1732.6L1735.8 1732.6Z" fill="#0808f0"/><path d="M1762.6 1724.9L1769.8 1712.3L1755.4 1712.3Z" fill="#0808f0"/><path d="M1782.3 1704.5L1789.5 1691.9L1775.1 1691.9Z" fill="#0808f0"/><path d="M1801.9 1684.2L1809.1 1671.6L1794.7 1671.6Z" fill="#0808f0"/><path d="M1821.5 1664.0L1828.7 1651.4L1814.3 1651.4Z" fill="#0808f0"/><path d="M1841.2 1643.7L1848.4 1631.1L1834.0 1631.1Z" fill="#0808f0"/><path d="M1860.8 1623.5L1868.0 1610.9L1853.6 1610.9Z" fill="#0808f0"/><path d="M1880.4 1603.3L1887.6 1590.7L1873.2 1590.7Z" fill="#0808f0"/><path d="M1900.1 1583.1L1907.3 1570.5L1892.9 1570.5Z" fill="#0808f0"/><path d="M1919.7 1562.9L1926.9 1550.3L1912.5 1550.3Z" fill="#0808f0"/><path d="M1939.3 1542.8L1946.5 1530.2L1932.1 1530.2Z" fill="#0808f0"/><path d="M1959.0 1522.7L1966.2 1510.1L1951.8 1510.1Z" fill="#0808f0"/><path d="M1978.6 1502.6L1985.8 1490.0L1971.4 1490.0Z" fill="#0808f0"/><path d="M1998.2 1482.5L2005.4 1469.9L1991.0 1469.9Z" fill="#0808f0"/><path d="M2017.9 1462.5L2025.1 1449.9L2010.7 1449.9Z" fill="#0808f0"/><path d="M2037.5 1442.5L2044.7 1429.9L2030.3 1429.9Z" fill="#0808f0"/><path d="M2057.1 1422.5L2064.3 1409.9L2049.9 1409.9Z" fill="#0808f0"/><path d="M2076.8 1402.5L2084.0 1389.9L2069.6 1389.9Z" fill="#0808f0"/><path d="M2096.4 1382.6L2103.6 1370.0L2089.2 1370.0Z" fill="#0808f0"/><path d="M2116.0 1362.6L2123.2 1350.0L2108.8 1350.0Z" fill="#0808f0"/><path d="M2135.7 1342.7L2142.9 1330.1L2128.5 1330.1Z" fill="#0808f0"/><path d="M2155.3 1322.9L2162.5 1310.3L2148.1 1310.3Z" fill="#0808f0"/><path d="M2174.9 1303.0L2182.1 1290.4L2167.7 1290.4Z" fill="#0808f0"/><path d="M2194.6 1283.2L2201.8 1270.6L2187.4 1270.6Z" fill="#0808f0"/><path d="M2214.2 1263.4L2221.4 1250.8L2207.0 1250.8Z" fill="#0808f0"/><path d="M2233.8 1243.6L2241.0 1231.0L2226.6 1231.0Z" fill="#0808f0"/><path d="M2253.5 1223.9L2260.7 1211.3L2246.3 1211.3Z" fill="#0808f0"/><path d="M2273.1 1204.2L2280.3 1191.6L2265.9 1191.6Z" fill="#0808f0"/><path d="M2292.7 1184.5L2299.9 1171.9L2285.5 1171.9Z" fill="#0808f0"/><path d="M2312.4 1164.8L2319.6 1152.2L2305.2 1152.2Z" fill="#0808f0"/><path d="M2332.0 1145.2L2339.2 1132.6L2324.8 1132.6Z" fill="#0808f0"/><path d="M2351.6 1125.5L2358.8 1112.9L2344.4 1112.9Z" fill="#0808f0"/><path d="M1743.0 1705.6L1749.5 1694.3L1736.5 1694.3Z" fill="#fff" stroke="#7070f0" stroke-width="1.25"/><path d="M1762.6 1685.5L1769.1 1674.2L1756.2 1674.2Z" fill="#fff" stroke="#7070f0" stroke-width="1.25"/><path d="M1782.3 1665.5L1788.8 1654.2L1775.8 1654.2Z" fill="#fff" stroke="#7070f0" stroke-width="1.25"/><path d="M1801.9 1645.5L1808.4 1634.2L1795.4 1634.2Z" fill="#fff" stroke="#7070f0" stroke-width="1.25"/><path d="M1821.5 1625.5L1828.0 1614.2L1815.1 1614.2Z" fill="#fff" stroke="#7070f0" stroke-width="1.25"/><path d="M1841.2 1605.6L1847.7 1594.2L1834.7 1594.2Z" fill="#fff" stroke="#7070f0" stroke-width="1.25"/><path d="M1860.8 1585.6L1867.3 1574.3L1854.3 1574.3Z" fill="#fff" stroke="#7070f0" stroke-width="1.25"/><path d="M1880.4 1565.7L1886.9 1554.3L1874.0 1554.3Z" fill="#fff" stroke="#7070f0" stroke-width="1.25"/><path d="M1900.1 1545.8L1906.6 1534.4L1893.6 1534.4Z" fill="#fff" stroke="#7070f0" stroke-width="1.25"/><path d="M1919.7 1525.9L1926.2 1514.6L1913.2 1514.6Z" fill="#fff" stroke="#7070f0" stroke-width="1.25"/><path d="M1939.3 1506.0L1945.8 1494.7L1932.9 1494.7Z" fill="#fff" stroke="#7070f0" stroke-width="1.25"/><path d="M1959.0 1486.2L1965.5 1474.9L1952.5 1474.9Z" fill="#fff" stroke="#7070f0" stroke-width="1.25"/><path d="M1978.6 1466.4L1985.1 1455.1L1972.1 1455.1Z" fill="#fff" stroke="#7070f0" stroke-width="1.25"/><path d="M1998.2 1446.6L2004.7 1435.3L1991.8 1435.3Z" fill="#fff" stroke="#7070f0" stroke-width="1.25"/><path d="M2017.9 1426.8L2024.4 1415.5L2011.4 1415.5Z" fill="#fff" stroke="#7070f0" stroke-width="1.25"/><path d="M2037.5 1407.1L2044.0 1395.7L2031.0 1395.7Z" fill="#fff" stroke="#7070f0" stroke-width="1.25"/><path d="M2057.1 1387.3L2063.6 1376.0L2050.7 1376.0Z" fill="#fff" stroke="#7070f0" stroke-width="1.25"/><path d="M2076.8 1367.6L2083.3 1356.3L2070.3 1356.3Z" fill="#fff" stroke="#7070f0" stroke-width="1.25"/><path d="M2096.4 1347.9L2102.9 1336.6L2089.9 1336.6Z" fill="#fff" stroke="#7070f0" stroke-width="1.25"/><path d="M2116.0 1328.2L2122.5 1316.9L2109.6 1316.9Z" fill="#fff" stroke="#7070f0" stroke-width="1.25"/><path d="M2135.7 1308.6L2142.2 1297.2L2129.2 1297.2Z" fill="#fff" stroke="#7070f0" stroke-width="1.25"/><path d="M2155.3 1288.9L2161.8 1277.6L2148.8 1277.6Z" fill="#fff" stroke="#7070f0" stroke-width="1.25"/><path d="M2174.9 1269.3L2181.4 1258.0L2168.5 1258.0Z" fill="#fff" stroke="#7070f0" stroke-width="1.25"/><path d="M2194.6 1249.7L2201.1 1238.4L2188.1 1238.4Z" fill="#fff" stroke="#7070f0" stroke-width="1.25"/><path d="M2214.2 1230.1L2220.7 1218.8L2207.7 1218.8Z" fill="#fff" stroke="#7070f0" stroke-width="1.25"/><path d="M2233.8 1210.6L2240.3 1199.2L2227.4 1199.2Z" fill="#fff" stroke="#7070f0" stroke-width="1.25"/><path d="M2253.5 1191.0L2260.0 1179.7L2247.0 1179.7Z" fill="#fff" stroke="#7070f0" stroke-width="1.25"/><path d="M2273.1 1171.5L2279.6 1160.2L2266.6 1160.2Z" fill="#fff" stroke="#7070f0" stroke-width="1.25"/><path d="M2292.7 1152.0L2299.2 1140.7L2286.3 1140.7Z" fill="#fff" stroke="#7070f0" stroke-width="1.25"/><path d="M2312.4 1132.5L2318.8 1121.2L2305.9 1121.2Z" fill="#fff" stroke="#7070f0" stroke-width="1.25"/><path d="M2332.0 1113.0L2338.5 1101.7L2325.5 1101.7Z" fill="#fff" stroke="#7070f0" stroke-width="1.25"/><path d="M2351.6 1093.6L2358.1 1082.3L2345.2 1082.3Z" fill="#fff" stroke="#7070f0" stroke-width="1.25"/><path d="M1743.0 1991.7L1750.4 1999.1L1743.0 2006.5L1735.6 1999.1Z" fill="#f000f0"/><path d="M1762.6 1971.2L1770.0 1978.6L1762.6 1986.0L1755.2 1978.6Z" fill="#f000f0"/><path d="M1782.3 1950.7L1789.7 1958.1L1782.3 1965.5L1774.9 1958.1Z" fill="#f000f0"/><path d="M1801.9 1930.2L1809.3 1937.6L1801.9 1945.0L1794.5 1937.6Z" fill="#f000f0"/><path d="M1821.5 1909.8L1828.9 1917.2L1821.5 1924.6L1814.1 1917.2Z" fill="#f000f0"/><path d="M1841.2 1889.3L1848.6 1896.7L1841.2 1904.1L1833.8 1896.7Z" fill="#f000f0"/><path d="M1860.8 1868.9L1868.2 1876.3L1860.8 1883.7L1853.4 1876.3Z" fill="#f000f0"/><path d="M1880.4 1848.4L1887.8 1855.8L1880.4 1863.2L1873.0 1855.8Z" fill="#f000f0"/><path d="M1900.1 1827.9L1907.5 1835.3L1900.1 1842.7L1892.7 1835.3Z" fill="#f000f0"/><path d="M1919.7 1807.5L1927.1 1814.9L1919.7 1822.3L1912.3 1814.9Z" fill="#f000f0"/><path d="M1939.3 1787.1L1946.7 1794.5L1939.3 1801.9L1931.9 1794.5Z" fill="#f000f0"/><path d="M1959.0 1766.6L1966.4 1774.0L1959.0 1781.4L1951.6 1774.0Z" fill="#f000f0"/><path d="M1978.6 1746.2L1986.0 1753.6L1978.6 1761.0L1971.2 1753.6Z" fill="#f000f0"/><path d="M1998.2 1725.8L2005.6 1733.2L1998.2 1740.6L1990.8 1733.2Z" fill="#f000f0"/><path d="M2017.9 1705.4L2025.3 1712.8L2017.9 1720.2L2010.5 1712.8Z" fill="#f000f0"/><path d="M2037.5 1685.0L2044.9 1692.4L2037.5 1699.8L2030.1 1692.4Z" fill="#f000f0"/><path d="M2057.1 1664.6L2064.5 1672.0L2057.1 1679.4L2049.7 1672.0Z" fill="#f000f0"/><path d="M2076.8 1644.2L2084.2 1651.6L2076.8 1659.0L2069.4 1651.6Z" fill="#f000f0"/><path d="M2096.4 1623.9L2103.8 1631.3L2096.4 1638.7L2089.0 1631.3Z" fill="#f000f0"/><path d="M2116.0 1603.5L2123.4 1610.9L2116.0 1618.3L2108.6 1610.9Z" fill="#f000f0"/><path d="M2135.7 1583.2L2143.1 1590.6L2135.7 1598.0L2128.3 1590.6Z" fill="#f000f0"/><path d="M2155.3 1562.9L2162.7 1570.3L2155.3 1577.7L2147.9 1570.3Z" fill="#f000f0"/><path d="M2174.9 1542.6L2182.3 1550.0L2174.9 1557.4L2167.5 1550.0Z" fill="#f000f0"/><path d="M2194.6 1522.3L2202.0 1529.7L2194.6 1537.1L2187.2 1529.7Z" fill="#f000f0"/><path d="M2214.2 1502.0L2221.6 1509.4L2214.2 1516.8L2206.8 1509.4Z" fill="#f000f0"/><path d="M2233.8 1481.7L2241.2 1489.1L2233.8 1496.5L2226.4 1489.1Z" fill="#f000f0"/><path d="M2253.5 1461.5L2260.9 1468.9L2253.5 1476.3L2246.1 1468.9Z" fill="#f000f0"/><path d="M2273.1 1441.3L2280.5 1448.7L2273.1 1456.1L2265.7 1448.7Z" fill="#f000f0"/><path d="M2292.7 1421.1L2300.1 1428.5L2292.7 1435.9L2285.3 1428.5Z" fill="#f000f0"/><path d="M2312.4 1400.9L2319.8 1408.3L2312.4 1415.7L2305.0 1408.3Z" fill="#f000f0"/><path d="M2332.0 1380.7L2339.4 1388.1L2332.0 1395.5L2324.6 1388.1Z" fill="#f000f0"/><path d="M2351.6 1360.6L2359.0 1368.0L2351.6 1375.4L2344.2 1368.0Z" fill="#f000f0"/><path d="M1743.0 1963.7L1749.7 1970.3L1743.0 1977.0L1736.4 1970.3Z" fill="#fff" stroke="#f098f0" stroke-width="1.25"/><path d="M1762.6 1943.1L1769.3 1949.8L1762.6 1956.4L1756.0 1949.8Z" fill="#fff" stroke="#f098f0" stroke-width="1.25"/><path d="M1782.3 1922.6L1788.9 1929.2L1782.3 1935.9L1775.6 1929.2Z" fill="#fff" stroke="#f098f0" stroke-width="1.25"/><path d="M1801.9 1902.0L1808.6 1908.7L1801.9 1915.3L1795.3 1908.7Z" fill="#fff" stroke="#f098f0" stroke-width="1.25"/><path d="M1821.5 1881.5L1828.2 1888.1L1821.5 1894.8L1814.9 1888.1Z" fill="#fff" stroke="#f098f0" stroke-width="1.25"/><path d="M1841.2 1860.9L1847.8 1867.6L1841.2 1874.2L1834.5 1867.6Z" fill="#fff" stroke="#f098f0" stroke-width="1.25"/><path d="M1860.8 1840.4L1867.5 1847.0L1860.8 1853.7L1854.2 1847.0Z" fill="#fff" stroke="#f098f0" stroke-width="1.25"/><path d="M1880.4 1819.8L1887.1 1826.5L1880.4 1833.2L1873.8 1826.5Z" fill="#fff" stroke="#f098f0" stroke-width="1.25"/><path d="M1900.1 1799.3L1906.7 1806.0L1900.1 1812.6L1893.4 1806.0Z" fill="#fff" stroke="#f098f0" stroke-width="1.25"/><path d="M1919.7 1778.8L1926.4 1785.4L1919.7 1792.1L1913.1 1785.4Z" fill="#fff" stroke="#f098f0" stroke-width="1.25"/><path d="M1939.3 1758.3L1946.0 1764.9L1939.3 1771.6L1932.7 1764.9Z" fill="#fff" stroke="#f098f0" stroke-width="1.25"/><path d="M1959.0 1737.7L1965.6 1744.4L1959.0 1751.1L1952.3 1744.4Z" fill="#fff" stroke="#f098f0" stroke-width="1.25"/><path d="M1978.6 1717.3L1985.3 1723.9L1978.6 1730.6L1971.9 1723.9Z" fill="#fff" stroke="#f098f0" stroke-width="1.25"/><path d="M1998.2 1696.8L2004.9 1703.4L1998.2 1710.1L1991.6 1703.4Z" fill="#fff" stroke="#f098f0" stroke-width="1.25"/><path d="M2017.9 1676.3L2024.5 1682.9L2017.9 1689.6L2011.2 1682.9Z" fill="#fff" stroke="#f098f0" stroke-width="1.25"/><path d="M2037.5 1655.8L2044.2 1662.5L2037.5 1669.1L2030.8 1662.5Z" fill="#fff" stroke="#f098f0" stroke-width="1.25"/><path d="M2057.1 1635.4L2063.8 1642.0L2057.1 1648.7L2050.5 1642.0Z" fill="#fff" stroke="#f098f0" stroke-width="1.25"/><path d="M2076.8 1614.9L2083.4 1621.6L2076.8 1628.3L2070.1 1621.6Z" fill="#fff" stroke="#f098f0" stroke-width="1.25"/><path d="M2096.4 1594.5L2103.1 1601.2L2096.4 1607.8L2089.7 1601.2Z" fill="#fff" stroke="#f098f0" stroke-width="1.25"/><path d="M2116.0 1574.1L2122.7 1580.8L2116.0 1587.4L2109.4 1580.8Z" fill="#fff" stroke="#f098f0" stroke-width="1.25"/><path d="M2135.7 1553.7L2142.3 1560.4L2135.7 1567.1L2129.0 1560.4Z" fill="#fff" stroke="#f098f0" stroke-width="1.25"/><path d="M2155.3 1533.4L2162.0 1540.0L2155.3 1546.7L2148.6 1540.0Z" fill="#fff" stroke="#f098f0" stroke-width="1.25"/><path d="M2174.9 1513.0L2181.6 1519.7L2174.9 1526.4L2168.3 1519.7Z" fill="#fff" stroke="#f098f0" stroke-width="1.25"/><path d="M2194.6 1492.7L2201.2 1499.4L2194.6 1506.0L2187.9 1499.4Z" fill="#fff" stroke="#f098f0" stroke-width="1.25"/><path d="M2214.2 1472.4L2220.9 1479.1L2214.2 1485.7L2207.5 1479.1Z" fill="#fff" stroke="#f098f0" stroke-width="1.25"/><path d="M2233.8 1452.2L2240.5 1458.8L2233.8 1465.5L2227.2 1458.8Z" fill="#fff" stroke="#f098f0" stroke-width="1.25"/><path d="M2253.5 1431.9L2260.1 1438.6L2253.5 1445.2L2246.8 1438.6Z" fill="#fff" stroke="#f098f0" stroke-width="1.25"/><path d="M2273.1 1411.7L2279.8 1418.3L2273.1 1425.0L2266.4 1418.3Z" fill="#fff" stroke="#f098f0" stroke-width="1.25"/><path d="M2292.7 1391.5L2299.4 1398.1L2292.7 1404.8L2286.1 1398.1Z" fill="#fff" stroke="#f098f0" stroke-width="1.25"/><path d="M2312.4 1371.3L2319.0 1378.0L2312.4 1384.6L2305.7 1378.0Z" fill="#fff" stroke="#f098f0" stroke-width="1.25"/><path d="M2332.0 1351.2L2338.7 1357.8L2332.0 1364.5L2325.3 1357.8Z" fill="#fff" stroke="#f098f0" stroke-width="1.25"/><path d="M2351.6 1331.1L2358.3 1337.7L2351.6 1344.4L2345.0 1337.7Z" fill="#fff" stroke="#f098f0" stroke-width="1.25"/></g><path d="M1801.0 126.5H2318.0V1951.6" fill="none" stroke="#e4606c" stroke-width="3"/><path d="M1801.0 126.5V1951.6" fill="none" stroke="#e8707c" stroke-width="3.4"/><path d="M1799.5 1951.6H2318.0" fill="none" stroke="#c8303f" stroke-width="3"/><path d="M1789.0 1951.6H1801.0M1789.0 1415.0H1801.0M1789.0 878.4H1801.0M1789.0 341.8H1801.0M1795.0 1790.1H1801.0M1795.0 1695.6H1801.0M1795.0 1628.5H1801.0M1795.0 1576.5H1801.0M1795.0 1534.0H1801.0M1795.0 1498.1H1801.0M1795.0 1467.0H1801.0M1795.0 1439.6H1801.0M1795.0 1253.5H1801.0M1795.0 1159.0H1801.0M1795.0 1091.9H1801.0M1795.0 1039.9H1801.0M1795.0 997.4H1801.0M1795.0 961.5H1801.0M1795.0 930.4H1801.0M1795.0 903.0H1801.0M1795.0 716.9H1801.0M1795.0 622.4H1801.0M1795.0 555.3H1801.0M1795.0 503.3H1801.0M1795.0 460.8H1801.0M1795.0 424.9H1801.0M1795.0 393.8H1801.0M1795.0 366.4H1801.0M1795.0 180.3H1801.0M1825 1951.6V1956.1M1979.8 1951.6V1956.1M2073 1951.6V1956.1M2136.7 1951.6V1956.1M2186.2 1951.6V1956.1M2228 1951.6V1956.1M2262.7 1951.6V1956.1M2293 1951.6V1956.1M2318.0 1951.6V1962.6" stroke="#9a7078" stroke-width="1.9" fill="none"/><g font-family="'Liberation Serif', 'Times New Roman', serif"><text x="1679.6" y="1974.5" font-size="76.52" textLength="75.7" lengthAdjust="spacingAndGlyphs" fill="#d01026" >10</text><text x="1751.1" y="1944.6" font-size="50.77" textLength="30.0" lengthAdjust="spacingAndGlyphs" fill="#d01026" >1</text><text x="1679.6" y="1437.9" font-size="76.52" textLength="75.7" lengthAdjust="spacingAndGlyphs" fill="#d01026" >10</text><text x="1754.5" y="1408.0" font-size="50.77" textLength="25.6" lengthAdjust="spacingAndGlyphs" fill="#d01026" >2</text><text x="1679.6" y="901.3" font-size="76.52" textLength="75.7" lengthAdjust="spacingAndGlyphs" fill="#d01026" >10</text><text x="1753.9" y="871.4" font-size="50.00" textLength="25.6" lengthAdjust="spacingAndGlyphs" fill="#d01026" >3</text><text x="1679.6" y="364.7" font-size="76.52" textLength="75.7" lengthAdjust="spacingAndGlyphs" fill="#d01026" >10</text><text x="1755.6" y="334.8" font-size="50.77" textLength="22.3" lengthAdjust="spacingAndGlyphs" fill="#d01026" >4</text><text x="2301.2" y="2023.5" font-size="76.15" textLength="30.4" lengthAdjust="spacingAndGlyphs" fill="#d01026" >1</text><text x="1824.7" y="2096.0" font-size="74.00" textLength="479.1" lengthAdjust="spacingAndGlyphs" fill="#000" >Frequency (Hz)</text><text x="1737.8" y="95.8" font-size="75.65" textLength="629.8" lengthAdjust="spacingAndGlyphs" fill="#e81020" >Partial enlargement</text></g></svg></body></html>
